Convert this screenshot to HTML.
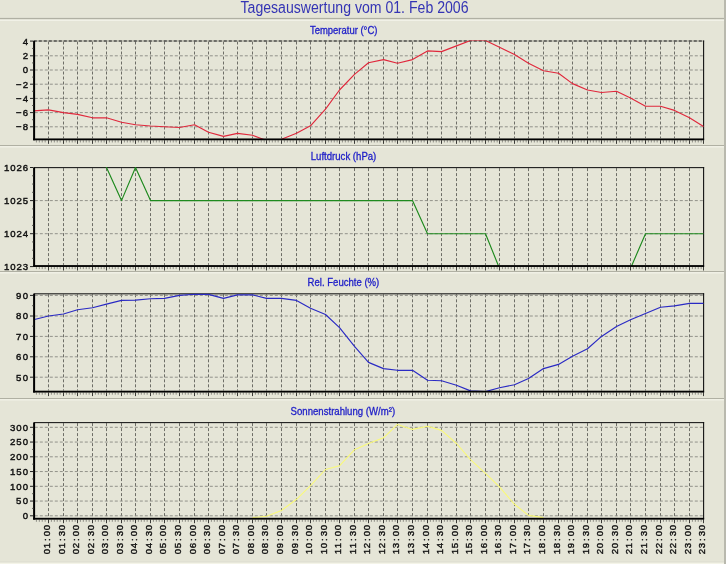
<!DOCTYPE html>
<html><head><meta charset="utf-8"><title>Tagesauswertung vom 01. Feb 2006</title>
<style>
html,body{margin:0;padding:0;background:#e5e5d7;}
body{width:726px;height:564px;overflow:hidden;font-family:"Liberation Sans",sans-serif;}
svg{will-change:transform;}
svg text{font-family:"Liberation Sans",sans-serif;}
.tt{font-size:15.8px;fill:#3434b4;}
.pt{font-size:10.6px;fill:#1c1cc8;stroke:#1c1cc8;stroke-width:0.3;}
.yl{font-size:9.6px;fill:#111;stroke:#111;stroke-width:0.42;}
.xl{font-size:9.6px;fill:#111;stroke:#111;stroke-width:0.4;}
</style></head>
<body>
<svg width="726" height="564" viewBox="0 0 726 564" style="display:block">
<rect x="0" y="0" width="726" height="564" fill="#e5e5d7"/>
<rect x="0" y="17.9" width="726" height="1.3" fill="#b0b0a3"/>
<rect x="0" y="19.6" width="726" height="1.4" fill="#f1f1e7"/>
<rect x="0" y="145" width="726" height="1.0" fill="#b0b0a3"/>
<rect x="0" y="146.1" width="726" height="1.4" fill="#f1f1e7"/>
<rect x="0" y="271" width="726" height="1.0" fill="#b0b0a3"/>
<rect x="0" y="272.1" width="726" height="1.4" fill="#f1f1e7"/>
<rect x="0" y="398" width="726" height="1.0" fill="#b0b0a3"/>
<rect x="0" y="399.1" width="726" height="1.4" fill="#f1f1e7"/>
<rect x="0" y="561" width="726" height="1.7" fill="#e0e0d3"/>
<rect x="0" y="562.7" width="726" height="1.3" fill="#f4f4e8"/>
<rect x="724" y="0" width="2" height="564" fill="#b9b9ae"/>
<clipPath id="c0"><rect x="33.8" y="40.5" width="670.3000000000001" height="98.75"/></clipPath>
<line x1="48.50" y1="41.50" x2="48.50" y2="138.25" stroke="#6e6e67" stroke-width="1" stroke-dasharray="3 2"/>
<line x1="63.50" y1="41.50" x2="63.50" y2="138.25" stroke="#6e6e67" stroke-width="1" stroke-dasharray="3 2"/>
<line x1="77.50" y1="41.50" x2="77.50" y2="138.25" stroke="#6e6e67" stroke-width="1" stroke-dasharray="3 2"/>
<line x1="92.50" y1="41.50" x2="92.50" y2="138.25" stroke="#6e6e67" stroke-width="1" stroke-dasharray="3 2"/>
<line x1="106.50" y1="41.50" x2="106.50" y2="138.25" stroke="#6e6e67" stroke-width="1" stroke-dasharray="3 2"/>
<line x1="121.50" y1="41.50" x2="121.50" y2="138.25" stroke="#6e6e67" stroke-width="1" stroke-dasharray="3 2"/>
<line x1="135.50" y1="41.50" x2="135.50" y2="138.25" stroke="#6e6e67" stroke-width="1" stroke-dasharray="3 2"/>
<line x1="150.50" y1="41.50" x2="150.50" y2="138.25" stroke="#6e6e67" stroke-width="1" stroke-dasharray="3 2"/>
<line x1="164.50" y1="41.50" x2="164.50" y2="138.25" stroke="#6e6e67" stroke-width="1" stroke-dasharray="3 2"/>
<line x1="179.50" y1="41.50" x2="179.50" y2="138.25" stroke="#6e6e67" stroke-width="1" stroke-dasharray="3 2"/>
<line x1="194.50" y1="41.50" x2="194.50" y2="138.25" stroke="#6e6e67" stroke-width="1" stroke-dasharray="3 2"/>
<line x1="208.50" y1="41.50" x2="208.50" y2="138.25" stroke="#6e6e67" stroke-width="1" stroke-dasharray="3 2"/>
<line x1="223.50" y1="41.50" x2="223.50" y2="138.25" stroke="#6e6e67" stroke-width="1" stroke-dasharray="3 2"/>
<line x1="237.50" y1="41.50" x2="237.50" y2="138.25" stroke="#6e6e67" stroke-width="1" stroke-dasharray="3 2"/>
<line x1="252.50" y1="41.50" x2="252.50" y2="138.25" stroke="#6e6e67" stroke-width="1" stroke-dasharray="3 2"/>
<line x1="266.50" y1="41.50" x2="266.50" y2="138.25" stroke="#6e6e67" stroke-width="1" stroke-dasharray="3 2"/>
<line x1="281.50" y1="41.50" x2="281.50" y2="138.25" stroke="#6e6e67" stroke-width="1" stroke-dasharray="3 2"/>
<line x1="296.50" y1="41.50" x2="296.50" y2="138.25" stroke="#6e6e67" stroke-width="1" stroke-dasharray="3 2"/>
<line x1="310.50" y1="41.50" x2="310.50" y2="138.25" stroke="#6e6e67" stroke-width="1" stroke-dasharray="3 2"/>
<line x1="325.50" y1="41.50" x2="325.50" y2="138.25" stroke="#6e6e67" stroke-width="1" stroke-dasharray="3 2"/>
<line x1="339.50" y1="41.50" x2="339.50" y2="138.25" stroke="#6e6e67" stroke-width="1" stroke-dasharray="3 2"/>
<line x1="354.50" y1="41.50" x2="354.50" y2="138.25" stroke="#6e6e67" stroke-width="1" stroke-dasharray="3 2"/>
<line x1="368.50" y1="41.50" x2="368.50" y2="138.25" stroke="#6e6e67" stroke-width="1" stroke-dasharray="3 2"/>
<line x1="383.50" y1="41.50" x2="383.50" y2="138.25" stroke="#6e6e67" stroke-width="1" stroke-dasharray="3 2"/>
<line x1="397.50" y1="41.50" x2="397.50" y2="138.25" stroke="#6e6e67" stroke-width="1" stroke-dasharray="3 2"/>
<line x1="412.50" y1="41.50" x2="412.50" y2="138.25" stroke="#6e6e67" stroke-width="1" stroke-dasharray="3 2"/>
<line x1="427.50" y1="41.50" x2="427.50" y2="138.25" stroke="#6e6e67" stroke-width="1" stroke-dasharray="3 2"/>
<line x1="441.50" y1="41.50" x2="441.50" y2="138.25" stroke="#6e6e67" stroke-width="1" stroke-dasharray="3 2"/>
<line x1="456.50" y1="41.50" x2="456.50" y2="138.25" stroke="#6e6e67" stroke-width="1" stroke-dasharray="3 2"/>
<line x1="470.50" y1="41.50" x2="470.50" y2="138.25" stroke="#6e6e67" stroke-width="1" stroke-dasharray="3 2"/>
<line x1="485.50" y1="41.50" x2="485.50" y2="138.25" stroke="#6e6e67" stroke-width="1" stroke-dasharray="3 2"/>
<line x1="499.50" y1="41.50" x2="499.50" y2="138.25" stroke="#6e6e67" stroke-width="1" stroke-dasharray="3 2"/>
<line x1="514.50" y1="41.50" x2="514.50" y2="138.25" stroke="#6e6e67" stroke-width="1" stroke-dasharray="3 2"/>
<line x1="528.50" y1="41.50" x2="528.50" y2="138.25" stroke="#6e6e67" stroke-width="1" stroke-dasharray="3 2"/>
<line x1="543.50" y1="41.50" x2="543.50" y2="138.25" stroke="#6e6e67" stroke-width="1" stroke-dasharray="3 2"/>
<line x1="558.50" y1="41.50" x2="558.50" y2="138.25" stroke="#6e6e67" stroke-width="1" stroke-dasharray="3 2"/>
<line x1="572.50" y1="41.50" x2="572.50" y2="138.25" stroke="#6e6e67" stroke-width="1" stroke-dasharray="3 2"/>
<line x1="587.50" y1="41.50" x2="587.50" y2="138.25" stroke="#6e6e67" stroke-width="1" stroke-dasharray="3 2"/>
<line x1="601.50" y1="41.50" x2="601.50" y2="138.25" stroke="#6e6e67" stroke-width="1" stroke-dasharray="3 2"/>
<line x1="616.50" y1="41.50" x2="616.50" y2="138.25" stroke="#6e6e67" stroke-width="1" stroke-dasharray="3 2"/>
<line x1="630.50" y1="41.50" x2="630.50" y2="138.25" stroke="#6e6e67" stroke-width="1" stroke-dasharray="3 2"/>
<line x1="645.50" y1="41.50" x2="645.50" y2="138.25" stroke="#6e6e67" stroke-width="1" stroke-dasharray="3 2"/>
<line x1="660.50" y1="41.50" x2="660.50" y2="138.25" stroke="#6e6e67" stroke-width="1" stroke-dasharray="3 2"/>
<line x1="674.50" y1="41.50" x2="674.50" y2="138.25" stroke="#6e6e67" stroke-width="1" stroke-dasharray="3 2"/>
<line x1="689.50" y1="41.50" x2="689.50" y2="138.25" stroke="#6e6e67" stroke-width="1" stroke-dasharray="3 2"/>
<line x1="34.80" y1="55.80" x2="703.60" y2="55.80" stroke="#92928a" stroke-width="1" stroke-dasharray="3 2"/>
<line x1="34.80" y1="70.00" x2="703.60" y2="70.00" stroke="#92928a" stroke-width="1" stroke-dasharray="3 2"/>
<line x1="34.80" y1="84.20" x2="703.60" y2="84.20" stroke="#92928a" stroke-width="1" stroke-dasharray="3 2"/>
<line x1="34.80" y1="98.40" x2="703.60" y2="98.40" stroke="#92928a" stroke-width="1" stroke-dasharray="3 2"/>
<line x1="34.80" y1="112.60" x2="703.60" y2="112.60" stroke="#92928a" stroke-width="1" stroke-dasharray="3 2"/>
<line x1="34.80" y1="126.80" x2="703.60" y2="126.80" stroke="#92928a" stroke-width="1" stroke-dasharray="3 2"/>
<line x1="33.80" y1="41.00" x2="704.10" y2="41.00" stroke="#9c9c92" stroke-width="1.15"/>
<line x1="33.80" y1="41.00" x2="704.10" y2="41.00" stroke="#1c1c1c" stroke-width="1.15" stroke-dasharray="3 2"/>
<line x1="703.60" y1="40.50" x2="703.60" y2="140.25" stroke="#111" stroke-width="1.1"/>
<polyline clip-path="url(#c0)" points="33.50,110.90 48.50,109.90 63.50,112.60 77.50,114.40 92.50,117.80 106.50,117.80 121.50,122.30 135.50,124.80 150.50,126.00 164.50,126.80 179.50,127.50 194.50,124.80 208.50,132.20 223.50,136.40 237.50,133.40 252.50,135.20 266.50,140.50 281.50,139.30 296.50,133.20 310.50,125.80 325.50,109.10 339.50,90.00 354.50,74.40 368.50,62.80 383.50,59.60 397.50,63.30 412.50,59.60 427.50,50.90 441.50,51.60 456.50,45.90 470.50,40.50 485.50,40.50 499.50,47.20 514.50,54.60 528.50,63.30 543.50,70.70 558.50,73.20 572.50,83.60 587.50,90.00 601.50,92.50 616.50,91.30 630.50,98.00 645.50,106.20 660.50,106.20 674.50,110.40 689.50,117.80 703.50,126.50" fill="none" stroke="#e0283c" stroke-width="1.15" stroke-linejoin="round"/>
<line x1="36.41" y1="140.25" x2="36.41" y2="142.45" stroke="#8f8f87" stroke-width="1"/>
<line x1="39.33" y1="140.25" x2="39.33" y2="142.45" stroke="#8f8f87" stroke-width="1"/>
<line x1="42.24" y1="140.25" x2="42.24" y2="142.45" stroke="#8f8f87" stroke-width="1"/>
<line x1="45.16" y1="140.25" x2="45.16" y2="142.45" stroke="#8f8f87" stroke-width="1"/>
<line x1="51.41" y1="140.25" x2="51.41" y2="142.45" stroke="#8f8f87" stroke-width="1"/>
<line x1="54.33" y1="140.25" x2="54.33" y2="142.45" stroke="#8f8f87" stroke-width="1"/>
<line x1="57.24" y1="140.25" x2="57.24" y2="142.45" stroke="#8f8f87" stroke-width="1"/>
<line x1="60.16" y1="140.25" x2="60.16" y2="142.45" stroke="#8f8f87" stroke-width="1"/>
<line x1="66.41" y1="140.25" x2="66.41" y2="142.45" stroke="#8f8f87" stroke-width="1"/>
<line x1="69.33" y1="140.25" x2="69.33" y2="142.45" stroke="#8f8f87" stroke-width="1"/>
<line x1="72.24" y1="140.25" x2="72.24" y2="142.45" stroke="#8f8f87" stroke-width="1"/>
<line x1="75.16" y1="140.25" x2="75.16" y2="142.45" stroke="#8f8f87" stroke-width="1"/>
<line x1="80.41" y1="140.25" x2="80.41" y2="142.45" stroke="#8f8f87" stroke-width="1"/>
<line x1="83.33" y1="140.25" x2="83.33" y2="142.45" stroke="#8f8f87" stroke-width="1"/>
<line x1="86.24" y1="140.25" x2="86.24" y2="142.45" stroke="#8f8f87" stroke-width="1"/>
<line x1="89.16" y1="140.25" x2="89.16" y2="142.45" stroke="#8f8f87" stroke-width="1"/>
<line x1="95.41" y1="140.25" x2="95.41" y2="142.45" stroke="#8f8f87" stroke-width="1"/>
<line x1="98.33" y1="140.25" x2="98.33" y2="142.45" stroke="#8f8f87" stroke-width="1"/>
<line x1="101.24" y1="140.25" x2="101.24" y2="142.45" stroke="#8f8f87" stroke-width="1"/>
<line x1="104.16" y1="140.25" x2="104.16" y2="142.45" stroke="#8f8f87" stroke-width="1"/>
<line x1="109.41" y1="140.25" x2="109.41" y2="142.45" stroke="#8f8f87" stroke-width="1"/>
<line x1="112.33" y1="140.25" x2="112.33" y2="142.45" stroke="#8f8f87" stroke-width="1"/>
<line x1="115.24" y1="140.25" x2="115.24" y2="142.45" stroke="#8f8f87" stroke-width="1"/>
<line x1="118.16" y1="140.25" x2="118.16" y2="142.45" stroke="#8f8f87" stroke-width="1"/>
<line x1="124.41" y1="140.25" x2="124.41" y2="142.45" stroke="#8f8f87" stroke-width="1"/>
<line x1="127.33" y1="140.25" x2="127.33" y2="142.45" stroke="#8f8f87" stroke-width="1"/>
<line x1="130.24" y1="140.25" x2="130.24" y2="142.45" stroke="#8f8f87" stroke-width="1"/>
<line x1="133.16" y1="140.25" x2="133.16" y2="142.45" stroke="#8f8f87" stroke-width="1"/>
<line x1="138.41" y1="140.25" x2="138.41" y2="142.45" stroke="#8f8f87" stroke-width="1"/>
<line x1="141.33" y1="140.25" x2="141.33" y2="142.45" stroke="#8f8f87" stroke-width="1"/>
<line x1="144.24" y1="140.25" x2="144.24" y2="142.45" stroke="#8f8f87" stroke-width="1"/>
<line x1="147.16" y1="140.25" x2="147.16" y2="142.45" stroke="#8f8f87" stroke-width="1"/>
<line x1="153.41" y1="140.25" x2="153.41" y2="142.45" stroke="#8f8f87" stroke-width="1"/>
<line x1="156.33" y1="140.25" x2="156.33" y2="142.45" stroke="#8f8f87" stroke-width="1"/>
<line x1="159.24" y1="140.25" x2="159.24" y2="142.45" stroke="#8f8f87" stroke-width="1"/>
<line x1="162.16" y1="140.25" x2="162.16" y2="142.45" stroke="#8f8f87" stroke-width="1"/>
<line x1="167.41" y1="140.25" x2="167.41" y2="142.45" stroke="#8f8f87" stroke-width="1"/>
<line x1="170.33" y1="140.25" x2="170.33" y2="142.45" stroke="#8f8f87" stroke-width="1"/>
<line x1="173.24" y1="140.25" x2="173.24" y2="142.45" stroke="#8f8f87" stroke-width="1"/>
<line x1="176.16" y1="140.25" x2="176.16" y2="142.45" stroke="#8f8f87" stroke-width="1"/>
<line x1="182.41" y1="140.25" x2="182.41" y2="142.45" stroke="#8f8f87" stroke-width="1"/>
<line x1="185.33" y1="140.25" x2="185.33" y2="142.45" stroke="#8f8f87" stroke-width="1"/>
<line x1="188.24" y1="140.25" x2="188.24" y2="142.45" stroke="#8f8f87" stroke-width="1"/>
<line x1="191.16" y1="140.25" x2="191.16" y2="142.45" stroke="#8f8f87" stroke-width="1"/>
<line x1="197.41" y1="140.25" x2="197.41" y2="142.45" stroke="#8f8f87" stroke-width="1"/>
<line x1="200.33" y1="140.25" x2="200.33" y2="142.45" stroke="#8f8f87" stroke-width="1"/>
<line x1="203.24" y1="140.25" x2="203.24" y2="142.45" stroke="#8f8f87" stroke-width="1"/>
<line x1="206.16" y1="140.25" x2="206.16" y2="142.45" stroke="#8f8f87" stroke-width="1"/>
<line x1="211.41" y1="140.25" x2="211.41" y2="142.45" stroke="#8f8f87" stroke-width="1"/>
<line x1="214.33" y1="140.25" x2="214.33" y2="142.45" stroke="#8f8f87" stroke-width="1"/>
<line x1="217.24" y1="140.25" x2="217.24" y2="142.45" stroke="#8f8f87" stroke-width="1"/>
<line x1="220.16" y1="140.25" x2="220.16" y2="142.45" stroke="#8f8f87" stroke-width="1"/>
<line x1="226.41" y1="140.25" x2="226.41" y2="142.45" stroke="#8f8f87" stroke-width="1"/>
<line x1="229.33" y1="140.25" x2="229.33" y2="142.45" stroke="#8f8f87" stroke-width="1"/>
<line x1="232.24" y1="140.25" x2="232.24" y2="142.45" stroke="#8f8f87" stroke-width="1"/>
<line x1="235.16" y1="140.25" x2="235.16" y2="142.45" stroke="#8f8f87" stroke-width="1"/>
<line x1="240.41" y1="140.25" x2="240.41" y2="142.45" stroke="#8f8f87" stroke-width="1"/>
<line x1="243.33" y1="140.25" x2="243.33" y2="142.45" stroke="#8f8f87" stroke-width="1"/>
<line x1="246.24" y1="140.25" x2="246.24" y2="142.45" stroke="#8f8f87" stroke-width="1"/>
<line x1="249.16" y1="140.25" x2="249.16" y2="142.45" stroke="#8f8f87" stroke-width="1"/>
<line x1="255.41" y1="140.25" x2="255.41" y2="142.45" stroke="#8f8f87" stroke-width="1"/>
<line x1="258.33" y1="140.25" x2="258.33" y2="142.45" stroke="#8f8f87" stroke-width="1"/>
<line x1="261.24" y1="140.25" x2="261.24" y2="142.45" stroke="#8f8f87" stroke-width="1"/>
<line x1="264.16" y1="140.25" x2="264.16" y2="142.45" stroke="#8f8f87" stroke-width="1"/>
<line x1="269.41" y1="140.25" x2="269.41" y2="142.45" stroke="#8f8f87" stroke-width="1"/>
<line x1="272.33" y1="140.25" x2="272.33" y2="142.45" stroke="#8f8f87" stroke-width="1"/>
<line x1="275.24" y1="140.25" x2="275.24" y2="142.45" stroke="#8f8f87" stroke-width="1"/>
<line x1="278.16" y1="140.25" x2="278.16" y2="142.45" stroke="#8f8f87" stroke-width="1"/>
<line x1="284.41" y1="140.25" x2="284.41" y2="142.45" stroke="#8f8f87" stroke-width="1"/>
<line x1="287.33" y1="140.25" x2="287.33" y2="142.45" stroke="#8f8f87" stroke-width="1"/>
<line x1="290.24" y1="140.25" x2="290.24" y2="142.45" stroke="#8f8f87" stroke-width="1"/>
<line x1="293.16" y1="140.25" x2="293.16" y2="142.45" stroke="#8f8f87" stroke-width="1"/>
<line x1="299.41" y1="140.25" x2="299.41" y2="142.45" stroke="#8f8f87" stroke-width="1"/>
<line x1="302.33" y1="140.25" x2="302.33" y2="142.45" stroke="#8f8f87" stroke-width="1"/>
<line x1="305.24" y1="140.25" x2="305.24" y2="142.45" stroke="#8f8f87" stroke-width="1"/>
<line x1="308.16" y1="140.25" x2="308.16" y2="142.45" stroke="#8f8f87" stroke-width="1"/>
<line x1="313.41" y1="140.25" x2="313.41" y2="142.45" stroke="#8f8f87" stroke-width="1"/>
<line x1="316.33" y1="140.25" x2="316.33" y2="142.45" stroke="#8f8f87" stroke-width="1"/>
<line x1="319.24" y1="140.25" x2="319.24" y2="142.45" stroke="#8f8f87" stroke-width="1"/>
<line x1="322.16" y1="140.25" x2="322.16" y2="142.45" stroke="#8f8f87" stroke-width="1"/>
<line x1="328.41" y1="140.25" x2="328.41" y2="142.45" stroke="#8f8f87" stroke-width="1"/>
<line x1="331.33" y1="140.25" x2="331.33" y2="142.45" stroke="#8f8f87" stroke-width="1"/>
<line x1="334.24" y1="140.25" x2="334.24" y2="142.45" stroke="#8f8f87" stroke-width="1"/>
<line x1="337.16" y1="140.25" x2="337.16" y2="142.45" stroke="#8f8f87" stroke-width="1"/>
<line x1="342.41" y1="140.25" x2="342.41" y2="142.45" stroke="#8f8f87" stroke-width="1"/>
<line x1="345.33" y1="140.25" x2="345.33" y2="142.45" stroke="#8f8f87" stroke-width="1"/>
<line x1="348.24" y1="140.25" x2="348.24" y2="142.45" stroke="#8f8f87" stroke-width="1"/>
<line x1="351.16" y1="140.25" x2="351.16" y2="142.45" stroke="#8f8f87" stroke-width="1"/>
<line x1="357.41" y1="140.25" x2="357.41" y2="142.45" stroke="#8f8f87" stroke-width="1"/>
<line x1="360.33" y1="140.25" x2="360.33" y2="142.45" stroke="#8f8f87" stroke-width="1"/>
<line x1="363.24" y1="140.25" x2="363.24" y2="142.45" stroke="#8f8f87" stroke-width="1"/>
<line x1="366.16" y1="140.25" x2="366.16" y2="142.45" stroke="#8f8f87" stroke-width="1"/>
<line x1="371.41" y1="140.25" x2="371.41" y2="142.45" stroke="#8f8f87" stroke-width="1"/>
<line x1="374.33" y1="140.25" x2="374.33" y2="142.45" stroke="#8f8f87" stroke-width="1"/>
<line x1="377.24" y1="140.25" x2="377.24" y2="142.45" stroke="#8f8f87" stroke-width="1"/>
<line x1="380.16" y1="140.25" x2="380.16" y2="142.45" stroke="#8f8f87" stroke-width="1"/>
<line x1="386.41" y1="140.25" x2="386.41" y2="142.45" stroke="#8f8f87" stroke-width="1"/>
<line x1="389.33" y1="140.25" x2="389.33" y2="142.45" stroke="#8f8f87" stroke-width="1"/>
<line x1="392.24" y1="140.25" x2="392.24" y2="142.45" stroke="#8f8f87" stroke-width="1"/>
<line x1="395.16" y1="140.25" x2="395.16" y2="142.45" stroke="#8f8f87" stroke-width="1"/>
<line x1="400.41" y1="140.25" x2="400.41" y2="142.45" stroke="#8f8f87" stroke-width="1"/>
<line x1="403.33" y1="140.25" x2="403.33" y2="142.45" stroke="#8f8f87" stroke-width="1"/>
<line x1="406.24" y1="140.25" x2="406.24" y2="142.45" stroke="#8f8f87" stroke-width="1"/>
<line x1="409.16" y1="140.25" x2="409.16" y2="142.45" stroke="#8f8f87" stroke-width="1"/>
<line x1="415.41" y1="140.25" x2="415.41" y2="142.45" stroke="#8f8f87" stroke-width="1"/>
<line x1="418.33" y1="140.25" x2="418.33" y2="142.45" stroke="#8f8f87" stroke-width="1"/>
<line x1="421.24" y1="140.25" x2="421.24" y2="142.45" stroke="#8f8f87" stroke-width="1"/>
<line x1="424.16" y1="140.25" x2="424.16" y2="142.45" stroke="#8f8f87" stroke-width="1"/>
<line x1="430.41" y1="140.25" x2="430.41" y2="142.45" stroke="#8f8f87" stroke-width="1"/>
<line x1="433.33" y1="140.25" x2="433.33" y2="142.45" stroke="#8f8f87" stroke-width="1"/>
<line x1="436.24" y1="140.25" x2="436.24" y2="142.45" stroke="#8f8f87" stroke-width="1"/>
<line x1="439.16" y1="140.25" x2="439.16" y2="142.45" stroke="#8f8f87" stroke-width="1"/>
<line x1="444.41" y1="140.25" x2="444.41" y2="142.45" stroke="#8f8f87" stroke-width="1"/>
<line x1="447.33" y1="140.25" x2="447.33" y2="142.45" stroke="#8f8f87" stroke-width="1"/>
<line x1="450.24" y1="140.25" x2="450.24" y2="142.45" stroke="#8f8f87" stroke-width="1"/>
<line x1="453.16" y1="140.25" x2="453.16" y2="142.45" stroke="#8f8f87" stroke-width="1"/>
<line x1="459.41" y1="140.25" x2="459.41" y2="142.45" stroke="#8f8f87" stroke-width="1"/>
<line x1="462.33" y1="140.25" x2="462.33" y2="142.45" stroke="#8f8f87" stroke-width="1"/>
<line x1="465.24" y1="140.25" x2="465.24" y2="142.45" stroke="#8f8f87" stroke-width="1"/>
<line x1="468.16" y1="140.25" x2="468.16" y2="142.45" stroke="#8f8f87" stroke-width="1"/>
<line x1="473.41" y1="140.25" x2="473.41" y2="142.45" stroke="#8f8f87" stroke-width="1"/>
<line x1="476.33" y1="140.25" x2="476.33" y2="142.45" stroke="#8f8f87" stroke-width="1"/>
<line x1="479.24" y1="140.25" x2="479.24" y2="142.45" stroke="#8f8f87" stroke-width="1"/>
<line x1="482.16" y1="140.25" x2="482.16" y2="142.45" stroke="#8f8f87" stroke-width="1"/>
<line x1="488.41" y1="140.25" x2="488.41" y2="142.45" stroke="#8f8f87" stroke-width="1"/>
<line x1="491.33" y1="140.25" x2="491.33" y2="142.45" stroke="#8f8f87" stroke-width="1"/>
<line x1="494.24" y1="140.25" x2="494.24" y2="142.45" stroke="#8f8f87" stroke-width="1"/>
<line x1="497.16" y1="140.25" x2="497.16" y2="142.45" stroke="#8f8f87" stroke-width="1"/>
<line x1="502.41" y1="140.25" x2="502.41" y2="142.45" stroke="#8f8f87" stroke-width="1"/>
<line x1="505.33" y1="140.25" x2="505.33" y2="142.45" stroke="#8f8f87" stroke-width="1"/>
<line x1="508.24" y1="140.25" x2="508.24" y2="142.45" stroke="#8f8f87" stroke-width="1"/>
<line x1="511.16" y1="140.25" x2="511.16" y2="142.45" stroke="#8f8f87" stroke-width="1"/>
<line x1="517.41" y1="140.25" x2="517.41" y2="142.45" stroke="#8f8f87" stroke-width="1"/>
<line x1="520.33" y1="140.25" x2="520.33" y2="142.45" stroke="#8f8f87" stroke-width="1"/>
<line x1="523.24" y1="140.25" x2="523.24" y2="142.45" stroke="#8f8f87" stroke-width="1"/>
<line x1="526.16" y1="140.25" x2="526.16" y2="142.45" stroke="#8f8f87" stroke-width="1"/>
<line x1="531.41" y1="140.25" x2="531.41" y2="142.45" stroke="#8f8f87" stroke-width="1"/>
<line x1="534.33" y1="140.25" x2="534.33" y2="142.45" stroke="#8f8f87" stroke-width="1"/>
<line x1="537.24" y1="140.25" x2="537.24" y2="142.45" stroke="#8f8f87" stroke-width="1"/>
<line x1="540.16" y1="140.25" x2="540.16" y2="142.45" stroke="#8f8f87" stroke-width="1"/>
<line x1="546.41" y1="140.25" x2="546.41" y2="142.45" stroke="#8f8f87" stroke-width="1"/>
<line x1="549.33" y1="140.25" x2="549.33" y2="142.45" stroke="#8f8f87" stroke-width="1"/>
<line x1="552.24" y1="140.25" x2="552.24" y2="142.45" stroke="#8f8f87" stroke-width="1"/>
<line x1="555.16" y1="140.25" x2="555.16" y2="142.45" stroke="#8f8f87" stroke-width="1"/>
<line x1="561.41" y1="140.25" x2="561.41" y2="142.45" stroke="#8f8f87" stroke-width="1"/>
<line x1="564.33" y1="140.25" x2="564.33" y2="142.45" stroke="#8f8f87" stroke-width="1"/>
<line x1="567.24" y1="140.25" x2="567.24" y2="142.45" stroke="#8f8f87" stroke-width="1"/>
<line x1="570.16" y1="140.25" x2="570.16" y2="142.45" stroke="#8f8f87" stroke-width="1"/>
<line x1="575.41" y1="140.25" x2="575.41" y2="142.45" stroke="#8f8f87" stroke-width="1"/>
<line x1="578.33" y1="140.25" x2="578.33" y2="142.45" stroke="#8f8f87" stroke-width="1"/>
<line x1="581.24" y1="140.25" x2="581.24" y2="142.45" stroke="#8f8f87" stroke-width="1"/>
<line x1="584.16" y1="140.25" x2="584.16" y2="142.45" stroke="#8f8f87" stroke-width="1"/>
<line x1="590.41" y1="140.25" x2="590.41" y2="142.45" stroke="#8f8f87" stroke-width="1"/>
<line x1="593.33" y1="140.25" x2="593.33" y2="142.45" stroke="#8f8f87" stroke-width="1"/>
<line x1="596.24" y1="140.25" x2="596.24" y2="142.45" stroke="#8f8f87" stroke-width="1"/>
<line x1="599.16" y1="140.25" x2="599.16" y2="142.45" stroke="#8f8f87" stroke-width="1"/>
<line x1="604.41" y1="140.25" x2="604.41" y2="142.45" stroke="#8f8f87" stroke-width="1"/>
<line x1="607.33" y1="140.25" x2="607.33" y2="142.45" stroke="#8f8f87" stroke-width="1"/>
<line x1="610.24" y1="140.25" x2="610.24" y2="142.45" stroke="#8f8f87" stroke-width="1"/>
<line x1="613.16" y1="140.25" x2="613.16" y2="142.45" stroke="#8f8f87" stroke-width="1"/>
<line x1="619.41" y1="140.25" x2="619.41" y2="142.45" stroke="#8f8f87" stroke-width="1"/>
<line x1="622.33" y1="140.25" x2="622.33" y2="142.45" stroke="#8f8f87" stroke-width="1"/>
<line x1="625.24" y1="140.25" x2="625.24" y2="142.45" stroke="#8f8f87" stroke-width="1"/>
<line x1="628.16" y1="140.25" x2="628.16" y2="142.45" stroke="#8f8f87" stroke-width="1"/>
<line x1="633.41" y1="140.25" x2="633.41" y2="142.45" stroke="#8f8f87" stroke-width="1"/>
<line x1="636.33" y1="140.25" x2="636.33" y2="142.45" stroke="#8f8f87" stroke-width="1"/>
<line x1="639.24" y1="140.25" x2="639.24" y2="142.45" stroke="#8f8f87" stroke-width="1"/>
<line x1="642.16" y1="140.25" x2="642.16" y2="142.45" stroke="#8f8f87" stroke-width="1"/>
<line x1="648.41" y1="140.25" x2="648.41" y2="142.45" stroke="#8f8f87" stroke-width="1"/>
<line x1="651.33" y1="140.25" x2="651.33" y2="142.45" stroke="#8f8f87" stroke-width="1"/>
<line x1="654.24" y1="140.25" x2="654.24" y2="142.45" stroke="#8f8f87" stroke-width="1"/>
<line x1="657.16" y1="140.25" x2="657.16" y2="142.45" stroke="#8f8f87" stroke-width="1"/>
<line x1="663.41" y1="140.25" x2="663.41" y2="142.45" stroke="#8f8f87" stroke-width="1"/>
<line x1="666.33" y1="140.25" x2="666.33" y2="142.45" stroke="#8f8f87" stroke-width="1"/>
<line x1="669.24" y1="140.25" x2="669.24" y2="142.45" stroke="#8f8f87" stroke-width="1"/>
<line x1="672.16" y1="140.25" x2="672.16" y2="142.45" stroke="#8f8f87" stroke-width="1"/>
<line x1="677.41" y1="140.25" x2="677.41" y2="142.45" stroke="#8f8f87" stroke-width="1"/>
<line x1="680.33" y1="140.25" x2="680.33" y2="142.45" stroke="#8f8f87" stroke-width="1"/>
<line x1="683.24" y1="140.25" x2="683.24" y2="142.45" stroke="#8f8f87" stroke-width="1"/>
<line x1="686.16" y1="140.25" x2="686.16" y2="142.45" stroke="#8f8f87" stroke-width="1"/>
<line x1="692.41" y1="140.25" x2="692.41" y2="142.45" stroke="#8f8f87" stroke-width="1"/>
<line x1="695.33" y1="140.25" x2="695.33" y2="142.45" stroke="#8f8f87" stroke-width="1"/>
<line x1="698.24" y1="140.25" x2="698.24" y2="142.45" stroke="#8f8f87" stroke-width="1"/>
<line x1="701.16" y1="140.25" x2="701.16" y2="142.45" stroke="#8f8f87" stroke-width="1"/>
<line x1="48.50" y1="140.25" x2="48.50" y2="143.85" stroke="#3c3c38" stroke-width="1"/>
<line x1="63.50" y1="140.25" x2="63.50" y2="143.85" stroke="#3c3c38" stroke-width="1"/>
<line x1="77.50" y1="140.25" x2="77.50" y2="143.85" stroke="#3c3c38" stroke-width="1"/>
<line x1="92.50" y1="140.25" x2="92.50" y2="143.85" stroke="#3c3c38" stroke-width="1"/>
<line x1="106.50" y1="140.25" x2="106.50" y2="143.85" stroke="#3c3c38" stroke-width="1"/>
<line x1="121.50" y1="140.25" x2="121.50" y2="143.85" stroke="#3c3c38" stroke-width="1"/>
<line x1="135.50" y1="140.25" x2="135.50" y2="143.85" stroke="#3c3c38" stroke-width="1"/>
<line x1="150.50" y1="140.25" x2="150.50" y2="143.85" stroke="#3c3c38" stroke-width="1"/>
<line x1="164.50" y1="140.25" x2="164.50" y2="143.85" stroke="#3c3c38" stroke-width="1"/>
<line x1="179.50" y1="140.25" x2="179.50" y2="143.85" stroke="#3c3c38" stroke-width="1"/>
<line x1="194.50" y1="140.25" x2="194.50" y2="143.85" stroke="#3c3c38" stroke-width="1"/>
<line x1="208.50" y1="140.25" x2="208.50" y2="143.85" stroke="#3c3c38" stroke-width="1"/>
<line x1="223.50" y1="140.25" x2="223.50" y2="143.85" stroke="#3c3c38" stroke-width="1"/>
<line x1="237.50" y1="140.25" x2="237.50" y2="143.85" stroke="#3c3c38" stroke-width="1"/>
<line x1="252.50" y1="140.25" x2="252.50" y2="143.85" stroke="#3c3c38" stroke-width="1"/>
<line x1="266.50" y1="140.25" x2="266.50" y2="143.85" stroke="#3c3c38" stroke-width="1"/>
<line x1="281.50" y1="140.25" x2="281.50" y2="143.85" stroke="#3c3c38" stroke-width="1"/>
<line x1="296.50" y1="140.25" x2="296.50" y2="143.85" stroke="#3c3c38" stroke-width="1"/>
<line x1="310.50" y1="140.25" x2="310.50" y2="143.85" stroke="#3c3c38" stroke-width="1"/>
<line x1="325.50" y1="140.25" x2="325.50" y2="143.85" stroke="#3c3c38" stroke-width="1"/>
<line x1="339.50" y1="140.25" x2="339.50" y2="143.85" stroke="#3c3c38" stroke-width="1"/>
<line x1="354.50" y1="140.25" x2="354.50" y2="143.85" stroke="#3c3c38" stroke-width="1"/>
<line x1="368.50" y1="140.25" x2="368.50" y2="143.85" stroke="#3c3c38" stroke-width="1"/>
<line x1="383.50" y1="140.25" x2="383.50" y2="143.85" stroke="#3c3c38" stroke-width="1"/>
<line x1="397.50" y1="140.25" x2="397.50" y2="143.85" stroke="#3c3c38" stroke-width="1"/>
<line x1="412.50" y1="140.25" x2="412.50" y2="143.85" stroke="#3c3c38" stroke-width="1"/>
<line x1="427.50" y1="140.25" x2="427.50" y2="143.85" stroke="#3c3c38" stroke-width="1"/>
<line x1="441.50" y1="140.25" x2="441.50" y2="143.85" stroke="#3c3c38" stroke-width="1"/>
<line x1="456.50" y1="140.25" x2="456.50" y2="143.85" stroke="#3c3c38" stroke-width="1"/>
<line x1="470.50" y1="140.25" x2="470.50" y2="143.85" stroke="#3c3c38" stroke-width="1"/>
<line x1="485.50" y1="140.25" x2="485.50" y2="143.85" stroke="#3c3c38" stroke-width="1"/>
<line x1="499.50" y1="140.25" x2="499.50" y2="143.85" stroke="#3c3c38" stroke-width="1"/>
<line x1="514.50" y1="140.25" x2="514.50" y2="143.85" stroke="#3c3c38" stroke-width="1"/>
<line x1="528.50" y1="140.25" x2="528.50" y2="143.85" stroke="#3c3c38" stroke-width="1"/>
<line x1="543.50" y1="140.25" x2="543.50" y2="143.85" stroke="#3c3c38" stroke-width="1"/>
<line x1="558.50" y1="140.25" x2="558.50" y2="143.85" stroke="#3c3c38" stroke-width="1"/>
<line x1="572.50" y1="140.25" x2="572.50" y2="143.85" stroke="#3c3c38" stroke-width="1"/>
<line x1="587.50" y1="140.25" x2="587.50" y2="143.85" stroke="#3c3c38" stroke-width="1"/>
<line x1="601.50" y1="140.25" x2="601.50" y2="143.85" stroke="#3c3c38" stroke-width="1"/>
<line x1="616.50" y1="140.25" x2="616.50" y2="143.85" stroke="#3c3c38" stroke-width="1"/>
<line x1="630.50" y1="140.25" x2="630.50" y2="143.85" stroke="#3c3c38" stroke-width="1"/>
<line x1="645.50" y1="140.25" x2="645.50" y2="143.85" stroke="#3c3c38" stroke-width="1"/>
<line x1="660.50" y1="140.25" x2="660.50" y2="143.85" stroke="#3c3c38" stroke-width="1"/>
<line x1="674.50" y1="140.25" x2="674.50" y2="143.85" stroke="#3c3c38" stroke-width="1"/>
<line x1="689.50" y1="140.25" x2="689.50" y2="143.85" stroke="#3c3c38" stroke-width="1"/>
<line x1="703.50" y1="140.25" x2="703.50" y2="143.85" stroke="#3c3c38" stroke-width="1"/>
<rect x="33.1" y="40.90" width="2" height="99.35" fill="#000"/>
<rect x="33.1" y="138.45" width="671.00" height="1.85" fill="#000"/>
<line x1="30.00" y1="41.10" x2="33.30" y2="41.10" stroke="#222" stroke-width="1"/>
<line x1="32.00" y1="48.45" x2="33.30" y2="48.45" stroke="#66665f" stroke-width="1"/>
<text x="28.0" y="44.50" text-anchor="end" textLength="6.0" lengthAdjust="spacing" class="yl">4</text>
<line x1="30.00" y1="55.80" x2="33.30" y2="55.80" stroke="#222" stroke-width="1"/>
<line x1="32.00" y1="62.90" x2="33.30" y2="62.90" stroke="#66665f" stroke-width="1"/>
<text x="28.0" y="59.20" text-anchor="end" textLength="6.0" lengthAdjust="spacing" class="yl">2</text>
<line x1="30.00" y1="70.00" x2="33.30" y2="70.00" stroke="#222" stroke-width="1"/>
<line x1="32.00" y1="77.10" x2="33.30" y2="77.10" stroke="#66665f" stroke-width="1"/>
<text x="28.0" y="73.40" text-anchor="end" textLength="6.0" lengthAdjust="spacing" class="yl">0</text>
<line x1="30.00" y1="84.20" x2="33.30" y2="84.20" stroke="#222" stroke-width="1"/>
<line x1="32.00" y1="91.30" x2="33.30" y2="91.30" stroke="#66665f" stroke-width="1"/>
<text x="28.0" y="87.60" text-anchor="end" textLength="12.0" lengthAdjust="spacing" class="yl">−2</text>
<line x1="30.00" y1="98.40" x2="33.30" y2="98.40" stroke="#222" stroke-width="1"/>
<line x1="32.00" y1="105.50" x2="33.30" y2="105.50" stroke="#66665f" stroke-width="1"/>
<text x="28.0" y="101.80" text-anchor="end" textLength="12.0" lengthAdjust="spacing" class="yl">−4</text>
<line x1="30.00" y1="112.60" x2="33.30" y2="112.60" stroke="#222" stroke-width="1"/>
<line x1="32.00" y1="119.70" x2="33.30" y2="119.70" stroke="#66665f" stroke-width="1"/>
<text x="28.0" y="116.00" text-anchor="end" textLength="12.0" lengthAdjust="spacing" class="yl">−6</text>
<line x1="30.00" y1="126.80" x2="33.30" y2="126.80" stroke="#222" stroke-width="1"/>
<text x="28.0" y="130.20" text-anchor="end" textLength="12.0" lengthAdjust="spacing" class="yl">−8</text>
<text x="309.9" y="33.9" textLength="67.5" lengthAdjust="spacingAndGlyphs" class="pt">Temperatur (°C)</text>
<clipPath id="c1"><rect x="33.8" y="167.1" width="670.3000000000001" height="98.79999999999998"/></clipPath>
<line x1="48.50" y1="168.10" x2="48.50" y2="264.90" stroke="#6e6e67" stroke-width="1" stroke-dasharray="3 2"/>
<line x1="63.50" y1="168.10" x2="63.50" y2="264.90" stroke="#6e6e67" stroke-width="1" stroke-dasharray="3 2"/>
<line x1="77.50" y1="168.10" x2="77.50" y2="264.90" stroke="#6e6e67" stroke-width="1" stroke-dasharray="3 2"/>
<line x1="92.50" y1="168.10" x2="92.50" y2="264.90" stroke="#6e6e67" stroke-width="1" stroke-dasharray="3 2"/>
<line x1="106.50" y1="168.10" x2="106.50" y2="264.90" stroke="#6e6e67" stroke-width="1" stroke-dasharray="3 2"/>
<line x1="121.50" y1="168.10" x2="121.50" y2="264.90" stroke="#6e6e67" stroke-width="1" stroke-dasharray="3 2"/>
<line x1="135.50" y1="168.10" x2="135.50" y2="264.90" stroke="#6e6e67" stroke-width="1" stroke-dasharray="3 2"/>
<line x1="150.50" y1="168.10" x2="150.50" y2="264.90" stroke="#6e6e67" stroke-width="1" stroke-dasharray="3 2"/>
<line x1="164.50" y1="168.10" x2="164.50" y2="264.90" stroke="#6e6e67" stroke-width="1" stroke-dasharray="3 2"/>
<line x1="179.50" y1="168.10" x2="179.50" y2="264.90" stroke="#6e6e67" stroke-width="1" stroke-dasharray="3 2"/>
<line x1="194.50" y1="168.10" x2="194.50" y2="264.90" stroke="#6e6e67" stroke-width="1" stroke-dasharray="3 2"/>
<line x1="208.50" y1="168.10" x2="208.50" y2="264.90" stroke="#6e6e67" stroke-width="1" stroke-dasharray="3 2"/>
<line x1="223.50" y1="168.10" x2="223.50" y2="264.90" stroke="#6e6e67" stroke-width="1" stroke-dasharray="3 2"/>
<line x1="237.50" y1="168.10" x2="237.50" y2="264.90" stroke="#6e6e67" stroke-width="1" stroke-dasharray="3 2"/>
<line x1="252.50" y1="168.10" x2="252.50" y2="264.90" stroke="#6e6e67" stroke-width="1" stroke-dasharray="3 2"/>
<line x1="266.50" y1="168.10" x2="266.50" y2="264.90" stroke="#6e6e67" stroke-width="1" stroke-dasharray="3 2"/>
<line x1="281.50" y1="168.10" x2="281.50" y2="264.90" stroke="#6e6e67" stroke-width="1" stroke-dasharray="3 2"/>
<line x1="296.50" y1="168.10" x2="296.50" y2="264.90" stroke="#6e6e67" stroke-width="1" stroke-dasharray="3 2"/>
<line x1="310.50" y1="168.10" x2="310.50" y2="264.90" stroke="#6e6e67" stroke-width="1" stroke-dasharray="3 2"/>
<line x1="325.50" y1="168.10" x2="325.50" y2="264.90" stroke="#6e6e67" stroke-width="1" stroke-dasharray="3 2"/>
<line x1="339.50" y1="168.10" x2="339.50" y2="264.90" stroke="#6e6e67" stroke-width="1" stroke-dasharray="3 2"/>
<line x1="354.50" y1="168.10" x2="354.50" y2="264.90" stroke="#6e6e67" stroke-width="1" stroke-dasharray="3 2"/>
<line x1="368.50" y1="168.10" x2="368.50" y2="264.90" stroke="#6e6e67" stroke-width="1" stroke-dasharray="3 2"/>
<line x1="383.50" y1="168.10" x2="383.50" y2="264.90" stroke="#6e6e67" stroke-width="1" stroke-dasharray="3 2"/>
<line x1="397.50" y1="168.10" x2="397.50" y2="264.90" stroke="#6e6e67" stroke-width="1" stroke-dasharray="3 2"/>
<line x1="412.50" y1="168.10" x2="412.50" y2="264.90" stroke="#6e6e67" stroke-width="1" stroke-dasharray="3 2"/>
<line x1="427.50" y1="168.10" x2="427.50" y2="264.90" stroke="#6e6e67" stroke-width="1" stroke-dasharray="3 2"/>
<line x1="441.50" y1="168.10" x2="441.50" y2="264.90" stroke="#6e6e67" stroke-width="1" stroke-dasharray="3 2"/>
<line x1="456.50" y1="168.10" x2="456.50" y2="264.90" stroke="#6e6e67" stroke-width="1" stroke-dasharray="3 2"/>
<line x1="470.50" y1="168.10" x2="470.50" y2="264.90" stroke="#6e6e67" stroke-width="1" stroke-dasharray="3 2"/>
<line x1="485.50" y1="168.10" x2="485.50" y2="264.90" stroke="#6e6e67" stroke-width="1" stroke-dasharray="3 2"/>
<line x1="499.50" y1="168.10" x2="499.50" y2="264.90" stroke="#6e6e67" stroke-width="1" stroke-dasharray="3 2"/>
<line x1="514.50" y1="168.10" x2="514.50" y2="264.90" stroke="#6e6e67" stroke-width="1" stroke-dasharray="3 2"/>
<line x1="528.50" y1="168.10" x2="528.50" y2="264.90" stroke="#6e6e67" stroke-width="1" stroke-dasharray="3 2"/>
<line x1="543.50" y1="168.10" x2="543.50" y2="264.90" stroke="#6e6e67" stroke-width="1" stroke-dasharray="3 2"/>
<line x1="558.50" y1="168.10" x2="558.50" y2="264.90" stroke="#6e6e67" stroke-width="1" stroke-dasharray="3 2"/>
<line x1="572.50" y1="168.10" x2="572.50" y2="264.90" stroke="#6e6e67" stroke-width="1" stroke-dasharray="3 2"/>
<line x1="587.50" y1="168.10" x2="587.50" y2="264.90" stroke="#6e6e67" stroke-width="1" stroke-dasharray="3 2"/>
<line x1="601.50" y1="168.10" x2="601.50" y2="264.90" stroke="#6e6e67" stroke-width="1" stroke-dasharray="3 2"/>
<line x1="616.50" y1="168.10" x2="616.50" y2="264.90" stroke="#6e6e67" stroke-width="1" stroke-dasharray="3 2"/>
<line x1="630.50" y1="168.10" x2="630.50" y2="264.90" stroke="#6e6e67" stroke-width="1" stroke-dasharray="3 2"/>
<line x1="645.50" y1="168.10" x2="645.50" y2="264.90" stroke="#6e6e67" stroke-width="1" stroke-dasharray="3 2"/>
<line x1="660.50" y1="168.10" x2="660.50" y2="264.90" stroke="#6e6e67" stroke-width="1" stroke-dasharray="3 2"/>
<line x1="674.50" y1="168.10" x2="674.50" y2="264.90" stroke="#6e6e67" stroke-width="1" stroke-dasharray="3 2"/>
<line x1="689.50" y1="168.10" x2="689.50" y2="264.90" stroke="#6e6e67" stroke-width="1" stroke-dasharray="3 2"/>
<line x1="34.80" y1="200.60" x2="703.60" y2="200.60" stroke="#92928a" stroke-width="1" stroke-dasharray="3 2"/>
<line x1="34.80" y1="233.70" x2="703.60" y2="233.70" stroke="#92928a" stroke-width="1" stroke-dasharray="3 2"/>
<rect x="33.80" y="167.05" width="670.30" height="1.1" fill="#1c1c1c"/>
<line x1="703.60" y1="167.10" x2="703.60" y2="266.90" stroke="#111" stroke-width="1.1"/>
<polyline clip-path="url(#c1)" points="33.50,134.40 48.50,134.40 63.50,134.40 77.50,134.40 92.50,134.40 106.50,167.50 121.50,200.60 135.50,167.50 150.50,200.60 164.50,200.60 179.50,200.60 194.50,200.60 208.50,200.60 223.50,200.60 237.50,200.60 252.50,200.60 266.50,200.60 281.50,200.60 296.50,200.60 310.50,200.60 325.50,200.60 339.50,200.60 354.50,200.60 368.50,200.60 383.50,200.60 397.50,200.60 412.50,200.60 427.50,233.70 441.50,233.70 456.50,233.70 470.50,233.70 485.50,233.70 499.50,268.45 514.50,268.45 528.50,268.45 543.50,268.45 558.50,268.45 572.50,268.45 587.50,268.45 601.50,268.45 616.50,268.45 630.50,268.45 645.50,233.70 660.50,233.70 674.50,233.70 689.50,233.70 703.50,233.70" fill="none" stroke="#1e8a1e" stroke-width="1.15" stroke-linejoin="round"/>
<line x1="36.41" y1="266.90" x2="36.41" y2="269.10" stroke="#8f8f87" stroke-width="1"/>
<line x1="39.33" y1="266.90" x2="39.33" y2="269.10" stroke="#8f8f87" stroke-width="1"/>
<line x1="42.24" y1="266.90" x2="42.24" y2="269.10" stroke="#8f8f87" stroke-width="1"/>
<line x1="45.16" y1="266.90" x2="45.16" y2="269.10" stroke="#8f8f87" stroke-width="1"/>
<line x1="51.41" y1="266.90" x2="51.41" y2="269.10" stroke="#8f8f87" stroke-width="1"/>
<line x1="54.33" y1="266.90" x2="54.33" y2="269.10" stroke="#8f8f87" stroke-width="1"/>
<line x1="57.24" y1="266.90" x2="57.24" y2="269.10" stroke="#8f8f87" stroke-width="1"/>
<line x1="60.16" y1="266.90" x2="60.16" y2="269.10" stroke="#8f8f87" stroke-width="1"/>
<line x1="66.41" y1="266.90" x2="66.41" y2="269.10" stroke="#8f8f87" stroke-width="1"/>
<line x1="69.33" y1="266.90" x2="69.33" y2="269.10" stroke="#8f8f87" stroke-width="1"/>
<line x1="72.24" y1="266.90" x2="72.24" y2="269.10" stroke="#8f8f87" stroke-width="1"/>
<line x1="75.16" y1="266.90" x2="75.16" y2="269.10" stroke="#8f8f87" stroke-width="1"/>
<line x1="80.41" y1="266.90" x2="80.41" y2="269.10" stroke="#8f8f87" stroke-width="1"/>
<line x1="83.33" y1="266.90" x2="83.33" y2="269.10" stroke="#8f8f87" stroke-width="1"/>
<line x1="86.24" y1="266.90" x2="86.24" y2="269.10" stroke="#8f8f87" stroke-width="1"/>
<line x1="89.16" y1="266.90" x2="89.16" y2="269.10" stroke="#8f8f87" stroke-width="1"/>
<line x1="95.41" y1="266.90" x2="95.41" y2="269.10" stroke="#8f8f87" stroke-width="1"/>
<line x1="98.33" y1="266.90" x2="98.33" y2="269.10" stroke="#8f8f87" stroke-width="1"/>
<line x1="101.24" y1="266.90" x2="101.24" y2="269.10" stroke="#8f8f87" stroke-width="1"/>
<line x1="104.16" y1="266.90" x2="104.16" y2="269.10" stroke="#8f8f87" stroke-width="1"/>
<line x1="109.41" y1="266.90" x2="109.41" y2="269.10" stroke="#8f8f87" stroke-width="1"/>
<line x1="112.33" y1="266.90" x2="112.33" y2="269.10" stroke="#8f8f87" stroke-width="1"/>
<line x1="115.24" y1="266.90" x2="115.24" y2="269.10" stroke="#8f8f87" stroke-width="1"/>
<line x1="118.16" y1="266.90" x2="118.16" y2="269.10" stroke="#8f8f87" stroke-width="1"/>
<line x1="124.41" y1="266.90" x2="124.41" y2="269.10" stroke="#8f8f87" stroke-width="1"/>
<line x1="127.33" y1="266.90" x2="127.33" y2="269.10" stroke="#8f8f87" stroke-width="1"/>
<line x1="130.24" y1="266.90" x2="130.24" y2="269.10" stroke="#8f8f87" stroke-width="1"/>
<line x1="133.16" y1="266.90" x2="133.16" y2="269.10" stroke="#8f8f87" stroke-width="1"/>
<line x1="138.41" y1="266.90" x2="138.41" y2="269.10" stroke="#8f8f87" stroke-width="1"/>
<line x1="141.33" y1="266.90" x2="141.33" y2="269.10" stroke="#8f8f87" stroke-width="1"/>
<line x1="144.24" y1="266.90" x2="144.24" y2="269.10" stroke="#8f8f87" stroke-width="1"/>
<line x1="147.16" y1="266.90" x2="147.16" y2="269.10" stroke="#8f8f87" stroke-width="1"/>
<line x1="153.41" y1="266.90" x2="153.41" y2="269.10" stroke="#8f8f87" stroke-width="1"/>
<line x1="156.33" y1="266.90" x2="156.33" y2="269.10" stroke="#8f8f87" stroke-width="1"/>
<line x1="159.24" y1="266.90" x2="159.24" y2="269.10" stroke="#8f8f87" stroke-width="1"/>
<line x1="162.16" y1="266.90" x2="162.16" y2="269.10" stroke="#8f8f87" stroke-width="1"/>
<line x1="167.41" y1="266.90" x2="167.41" y2="269.10" stroke="#8f8f87" stroke-width="1"/>
<line x1="170.33" y1="266.90" x2="170.33" y2="269.10" stroke="#8f8f87" stroke-width="1"/>
<line x1="173.24" y1="266.90" x2="173.24" y2="269.10" stroke="#8f8f87" stroke-width="1"/>
<line x1="176.16" y1="266.90" x2="176.16" y2="269.10" stroke="#8f8f87" stroke-width="1"/>
<line x1="182.41" y1="266.90" x2="182.41" y2="269.10" stroke="#8f8f87" stroke-width="1"/>
<line x1="185.33" y1="266.90" x2="185.33" y2="269.10" stroke="#8f8f87" stroke-width="1"/>
<line x1="188.24" y1="266.90" x2="188.24" y2="269.10" stroke="#8f8f87" stroke-width="1"/>
<line x1="191.16" y1="266.90" x2="191.16" y2="269.10" stroke="#8f8f87" stroke-width="1"/>
<line x1="197.41" y1="266.90" x2="197.41" y2="269.10" stroke="#8f8f87" stroke-width="1"/>
<line x1="200.33" y1="266.90" x2="200.33" y2="269.10" stroke="#8f8f87" stroke-width="1"/>
<line x1="203.24" y1="266.90" x2="203.24" y2="269.10" stroke="#8f8f87" stroke-width="1"/>
<line x1="206.16" y1="266.90" x2="206.16" y2="269.10" stroke="#8f8f87" stroke-width="1"/>
<line x1="211.41" y1="266.90" x2="211.41" y2="269.10" stroke="#8f8f87" stroke-width="1"/>
<line x1="214.33" y1="266.90" x2="214.33" y2="269.10" stroke="#8f8f87" stroke-width="1"/>
<line x1="217.24" y1="266.90" x2="217.24" y2="269.10" stroke="#8f8f87" stroke-width="1"/>
<line x1="220.16" y1="266.90" x2="220.16" y2="269.10" stroke="#8f8f87" stroke-width="1"/>
<line x1="226.41" y1="266.90" x2="226.41" y2="269.10" stroke="#8f8f87" stroke-width="1"/>
<line x1="229.33" y1="266.90" x2="229.33" y2="269.10" stroke="#8f8f87" stroke-width="1"/>
<line x1="232.24" y1="266.90" x2="232.24" y2="269.10" stroke="#8f8f87" stroke-width="1"/>
<line x1="235.16" y1="266.90" x2="235.16" y2="269.10" stroke="#8f8f87" stroke-width="1"/>
<line x1="240.41" y1="266.90" x2="240.41" y2="269.10" stroke="#8f8f87" stroke-width="1"/>
<line x1="243.33" y1="266.90" x2="243.33" y2="269.10" stroke="#8f8f87" stroke-width="1"/>
<line x1="246.24" y1="266.90" x2="246.24" y2="269.10" stroke="#8f8f87" stroke-width="1"/>
<line x1="249.16" y1="266.90" x2="249.16" y2="269.10" stroke="#8f8f87" stroke-width="1"/>
<line x1="255.41" y1="266.90" x2="255.41" y2="269.10" stroke="#8f8f87" stroke-width="1"/>
<line x1="258.33" y1="266.90" x2="258.33" y2="269.10" stroke="#8f8f87" stroke-width="1"/>
<line x1="261.24" y1="266.90" x2="261.24" y2="269.10" stroke="#8f8f87" stroke-width="1"/>
<line x1="264.16" y1="266.90" x2="264.16" y2="269.10" stroke="#8f8f87" stroke-width="1"/>
<line x1="269.41" y1="266.90" x2="269.41" y2="269.10" stroke="#8f8f87" stroke-width="1"/>
<line x1="272.33" y1="266.90" x2="272.33" y2="269.10" stroke="#8f8f87" stroke-width="1"/>
<line x1="275.24" y1="266.90" x2="275.24" y2="269.10" stroke="#8f8f87" stroke-width="1"/>
<line x1="278.16" y1="266.90" x2="278.16" y2="269.10" stroke="#8f8f87" stroke-width="1"/>
<line x1="284.41" y1="266.90" x2="284.41" y2="269.10" stroke="#8f8f87" stroke-width="1"/>
<line x1="287.33" y1="266.90" x2="287.33" y2="269.10" stroke="#8f8f87" stroke-width="1"/>
<line x1="290.24" y1="266.90" x2="290.24" y2="269.10" stroke="#8f8f87" stroke-width="1"/>
<line x1="293.16" y1="266.90" x2="293.16" y2="269.10" stroke="#8f8f87" stroke-width="1"/>
<line x1="299.41" y1="266.90" x2="299.41" y2="269.10" stroke="#8f8f87" stroke-width="1"/>
<line x1="302.33" y1="266.90" x2="302.33" y2="269.10" stroke="#8f8f87" stroke-width="1"/>
<line x1="305.24" y1="266.90" x2="305.24" y2="269.10" stroke="#8f8f87" stroke-width="1"/>
<line x1="308.16" y1="266.90" x2="308.16" y2="269.10" stroke="#8f8f87" stroke-width="1"/>
<line x1="313.41" y1="266.90" x2="313.41" y2="269.10" stroke="#8f8f87" stroke-width="1"/>
<line x1="316.33" y1="266.90" x2="316.33" y2="269.10" stroke="#8f8f87" stroke-width="1"/>
<line x1="319.24" y1="266.90" x2="319.24" y2="269.10" stroke="#8f8f87" stroke-width="1"/>
<line x1="322.16" y1="266.90" x2="322.16" y2="269.10" stroke="#8f8f87" stroke-width="1"/>
<line x1="328.41" y1="266.90" x2="328.41" y2="269.10" stroke="#8f8f87" stroke-width="1"/>
<line x1="331.33" y1="266.90" x2="331.33" y2="269.10" stroke="#8f8f87" stroke-width="1"/>
<line x1="334.24" y1="266.90" x2="334.24" y2="269.10" stroke="#8f8f87" stroke-width="1"/>
<line x1="337.16" y1="266.90" x2="337.16" y2="269.10" stroke="#8f8f87" stroke-width="1"/>
<line x1="342.41" y1="266.90" x2="342.41" y2="269.10" stroke="#8f8f87" stroke-width="1"/>
<line x1="345.33" y1="266.90" x2="345.33" y2="269.10" stroke="#8f8f87" stroke-width="1"/>
<line x1="348.24" y1="266.90" x2="348.24" y2="269.10" stroke="#8f8f87" stroke-width="1"/>
<line x1="351.16" y1="266.90" x2="351.16" y2="269.10" stroke="#8f8f87" stroke-width="1"/>
<line x1="357.41" y1="266.90" x2="357.41" y2="269.10" stroke="#8f8f87" stroke-width="1"/>
<line x1="360.33" y1="266.90" x2="360.33" y2="269.10" stroke="#8f8f87" stroke-width="1"/>
<line x1="363.24" y1="266.90" x2="363.24" y2="269.10" stroke="#8f8f87" stroke-width="1"/>
<line x1="366.16" y1="266.90" x2="366.16" y2="269.10" stroke="#8f8f87" stroke-width="1"/>
<line x1="371.41" y1="266.90" x2="371.41" y2="269.10" stroke="#8f8f87" stroke-width="1"/>
<line x1="374.33" y1="266.90" x2="374.33" y2="269.10" stroke="#8f8f87" stroke-width="1"/>
<line x1="377.24" y1="266.90" x2="377.24" y2="269.10" stroke="#8f8f87" stroke-width="1"/>
<line x1="380.16" y1="266.90" x2="380.16" y2="269.10" stroke="#8f8f87" stroke-width="1"/>
<line x1="386.41" y1="266.90" x2="386.41" y2="269.10" stroke="#8f8f87" stroke-width="1"/>
<line x1="389.33" y1="266.90" x2="389.33" y2="269.10" stroke="#8f8f87" stroke-width="1"/>
<line x1="392.24" y1="266.90" x2="392.24" y2="269.10" stroke="#8f8f87" stroke-width="1"/>
<line x1="395.16" y1="266.90" x2="395.16" y2="269.10" stroke="#8f8f87" stroke-width="1"/>
<line x1="400.41" y1="266.90" x2="400.41" y2="269.10" stroke="#8f8f87" stroke-width="1"/>
<line x1="403.33" y1="266.90" x2="403.33" y2="269.10" stroke="#8f8f87" stroke-width="1"/>
<line x1="406.24" y1="266.90" x2="406.24" y2="269.10" stroke="#8f8f87" stroke-width="1"/>
<line x1="409.16" y1="266.90" x2="409.16" y2="269.10" stroke="#8f8f87" stroke-width="1"/>
<line x1="415.41" y1="266.90" x2="415.41" y2="269.10" stroke="#8f8f87" stroke-width="1"/>
<line x1="418.33" y1="266.90" x2="418.33" y2="269.10" stroke="#8f8f87" stroke-width="1"/>
<line x1="421.24" y1="266.90" x2="421.24" y2="269.10" stroke="#8f8f87" stroke-width="1"/>
<line x1="424.16" y1="266.90" x2="424.16" y2="269.10" stroke="#8f8f87" stroke-width="1"/>
<line x1="430.41" y1="266.90" x2="430.41" y2="269.10" stroke="#8f8f87" stroke-width="1"/>
<line x1="433.33" y1="266.90" x2="433.33" y2="269.10" stroke="#8f8f87" stroke-width="1"/>
<line x1="436.24" y1="266.90" x2="436.24" y2="269.10" stroke="#8f8f87" stroke-width="1"/>
<line x1="439.16" y1="266.90" x2="439.16" y2="269.10" stroke="#8f8f87" stroke-width="1"/>
<line x1="444.41" y1="266.90" x2="444.41" y2="269.10" stroke="#8f8f87" stroke-width="1"/>
<line x1="447.33" y1="266.90" x2="447.33" y2="269.10" stroke="#8f8f87" stroke-width="1"/>
<line x1="450.24" y1="266.90" x2="450.24" y2="269.10" stroke="#8f8f87" stroke-width="1"/>
<line x1="453.16" y1="266.90" x2="453.16" y2="269.10" stroke="#8f8f87" stroke-width="1"/>
<line x1="459.41" y1="266.90" x2="459.41" y2="269.10" stroke="#8f8f87" stroke-width="1"/>
<line x1="462.33" y1="266.90" x2="462.33" y2="269.10" stroke="#8f8f87" stroke-width="1"/>
<line x1="465.24" y1="266.90" x2="465.24" y2="269.10" stroke="#8f8f87" stroke-width="1"/>
<line x1="468.16" y1="266.90" x2="468.16" y2="269.10" stroke="#8f8f87" stroke-width="1"/>
<line x1="473.41" y1="266.90" x2="473.41" y2="269.10" stroke="#8f8f87" stroke-width="1"/>
<line x1="476.33" y1="266.90" x2="476.33" y2="269.10" stroke="#8f8f87" stroke-width="1"/>
<line x1="479.24" y1="266.90" x2="479.24" y2="269.10" stroke="#8f8f87" stroke-width="1"/>
<line x1="482.16" y1="266.90" x2="482.16" y2="269.10" stroke="#8f8f87" stroke-width="1"/>
<line x1="488.41" y1="266.90" x2="488.41" y2="269.10" stroke="#8f8f87" stroke-width="1"/>
<line x1="491.33" y1="266.90" x2="491.33" y2="269.10" stroke="#8f8f87" stroke-width="1"/>
<line x1="494.24" y1="266.90" x2="494.24" y2="269.10" stroke="#8f8f87" stroke-width="1"/>
<line x1="497.16" y1="266.90" x2="497.16" y2="269.10" stroke="#8f8f87" stroke-width="1"/>
<line x1="502.41" y1="266.90" x2="502.41" y2="269.10" stroke="#8f8f87" stroke-width="1"/>
<line x1="505.33" y1="266.90" x2="505.33" y2="269.10" stroke="#8f8f87" stroke-width="1"/>
<line x1="508.24" y1="266.90" x2="508.24" y2="269.10" stroke="#8f8f87" stroke-width="1"/>
<line x1="511.16" y1="266.90" x2="511.16" y2="269.10" stroke="#8f8f87" stroke-width="1"/>
<line x1="517.41" y1="266.90" x2="517.41" y2="269.10" stroke="#8f8f87" stroke-width="1"/>
<line x1="520.33" y1="266.90" x2="520.33" y2="269.10" stroke="#8f8f87" stroke-width="1"/>
<line x1="523.24" y1="266.90" x2="523.24" y2="269.10" stroke="#8f8f87" stroke-width="1"/>
<line x1="526.16" y1="266.90" x2="526.16" y2="269.10" stroke="#8f8f87" stroke-width="1"/>
<line x1="531.41" y1="266.90" x2="531.41" y2="269.10" stroke="#8f8f87" stroke-width="1"/>
<line x1="534.33" y1="266.90" x2="534.33" y2="269.10" stroke="#8f8f87" stroke-width="1"/>
<line x1="537.24" y1="266.90" x2="537.24" y2="269.10" stroke="#8f8f87" stroke-width="1"/>
<line x1="540.16" y1="266.90" x2="540.16" y2="269.10" stroke="#8f8f87" stroke-width="1"/>
<line x1="546.41" y1="266.90" x2="546.41" y2="269.10" stroke="#8f8f87" stroke-width="1"/>
<line x1="549.33" y1="266.90" x2="549.33" y2="269.10" stroke="#8f8f87" stroke-width="1"/>
<line x1="552.24" y1="266.90" x2="552.24" y2="269.10" stroke="#8f8f87" stroke-width="1"/>
<line x1="555.16" y1="266.90" x2="555.16" y2="269.10" stroke="#8f8f87" stroke-width="1"/>
<line x1="561.41" y1="266.90" x2="561.41" y2="269.10" stroke="#8f8f87" stroke-width="1"/>
<line x1="564.33" y1="266.90" x2="564.33" y2="269.10" stroke="#8f8f87" stroke-width="1"/>
<line x1="567.24" y1="266.90" x2="567.24" y2="269.10" stroke="#8f8f87" stroke-width="1"/>
<line x1="570.16" y1="266.90" x2="570.16" y2="269.10" stroke="#8f8f87" stroke-width="1"/>
<line x1="575.41" y1="266.90" x2="575.41" y2="269.10" stroke="#8f8f87" stroke-width="1"/>
<line x1="578.33" y1="266.90" x2="578.33" y2="269.10" stroke="#8f8f87" stroke-width="1"/>
<line x1="581.24" y1="266.90" x2="581.24" y2="269.10" stroke="#8f8f87" stroke-width="1"/>
<line x1="584.16" y1="266.90" x2="584.16" y2="269.10" stroke="#8f8f87" stroke-width="1"/>
<line x1="590.41" y1="266.90" x2="590.41" y2="269.10" stroke="#8f8f87" stroke-width="1"/>
<line x1="593.33" y1="266.90" x2="593.33" y2="269.10" stroke="#8f8f87" stroke-width="1"/>
<line x1="596.24" y1="266.90" x2="596.24" y2="269.10" stroke="#8f8f87" stroke-width="1"/>
<line x1="599.16" y1="266.90" x2="599.16" y2="269.10" stroke="#8f8f87" stroke-width="1"/>
<line x1="604.41" y1="266.90" x2="604.41" y2="269.10" stroke="#8f8f87" stroke-width="1"/>
<line x1="607.33" y1="266.90" x2="607.33" y2="269.10" stroke="#8f8f87" stroke-width="1"/>
<line x1="610.24" y1="266.90" x2="610.24" y2="269.10" stroke="#8f8f87" stroke-width="1"/>
<line x1="613.16" y1="266.90" x2="613.16" y2="269.10" stroke="#8f8f87" stroke-width="1"/>
<line x1="619.41" y1="266.90" x2="619.41" y2="269.10" stroke="#8f8f87" stroke-width="1"/>
<line x1="622.33" y1="266.90" x2="622.33" y2="269.10" stroke="#8f8f87" stroke-width="1"/>
<line x1="625.24" y1="266.90" x2="625.24" y2="269.10" stroke="#8f8f87" stroke-width="1"/>
<line x1="628.16" y1="266.90" x2="628.16" y2="269.10" stroke="#8f8f87" stroke-width="1"/>
<line x1="633.41" y1="266.90" x2="633.41" y2="269.10" stroke="#8f8f87" stroke-width="1"/>
<line x1="636.33" y1="266.90" x2="636.33" y2="269.10" stroke="#8f8f87" stroke-width="1"/>
<line x1="639.24" y1="266.90" x2="639.24" y2="269.10" stroke="#8f8f87" stroke-width="1"/>
<line x1="642.16" y1="266.90" x2="642.16" y2="269.10" stroke="#8f8f87" stroke-width="1"/>
<line x1="648.41" y1="266.90" x2="648.41" y2="269.10" stroke="#8f8f87" stroke-width="1"/>
<line x1="651.33" y1="266.90" x2="651.33" y2="269.10" stroke="#8f8f87" stroke-width="1"/>
<line x1="654.24" y1="266.90" x2="654.24" y2="269.10" stroke="#8f8f87" stroke-width="1"/>
<line x1="657.16" y1="266.90" x2="657.16" y2="269.10" stroke="#8f8f87" stroke-width="1"/>
<line x1="663.41" y1="266.90" x2="663.41" y2="269.10" stroke="#8f8f87" stroke-width="1"/>
<line x1="666.33" y1="266.90" x2="666.33" y2="269.10" stroke="#8f8f87" stroke-width="1"/>
<line x1="669.24" y1="266.90" x2="669.24" y2="269.10" stroke="#8f8f87" stroke-width="1"/>
<line x1="672.16" y1="266.90" x2="672.16" y2="269.10" stroke="#8f8f87" stroke-width="1"/>
<line x1="677.41" y1="266.90" x2="677.41" y2="269.10" stroke="#8f8f87" stroke-width="1"/>
<line x1="680.33" y1="266.90" x2="680.33" y2="269.10" stroke="#8f8f87" stroke-width="1"/>
<line x1="683.24" y1="266.90" x2="683.24" y2="269.10" stroke="#8f8f87" stroke-width="1"/>
<line x1="686.16" y1="266.90" x2="686.16" y2="269.10" stroke="#8f8f87" stroke-width="1"/>
<line x1="692.41" y1="266.90" x2="692.41" y2="269.10" stroke="#8f8f87" stroke-width="1"/>
<line x1="695.33" y1="266.90" x2="695.33" y2="269.10" stroke="#8f8f87" stroke-width="1"/>
<line x1="698.24" y1="266.90" x2="698.24" y2="269.10" stroke="#8f8f87" stroke-width="1"/>
<line x1="701.16" y1="266.90" x2="701.16" y2="269.10" stroke="#8f8f87" stroke-width="1"/>
<line x1="48.50" y1="266.90" x2="48.50" y2="270.50" stroke="#3c3c38" stroke-width="1"/>
<line x1="63.50" y1="266.90" x2="63.50" y2="270.50" stroke="#3c3c38" stroke-width="1"/>
<line x1="77.50" y1="266.90" x2="77.50" y2="270.50" stroke="#3c3c38" stroke-width="1"/>
<line x1="92.50" y1="266.90" x2="92.50" y2="270.50" stroke="#3c3c38" stroke-width="1"/>
<line x1="106.50" y1="266.90" x2="106.50" y2="270.50" stroke="#3c3c38" stroke-width="1"/>
<line x1="121.50" y1="266.90" x2="121.50" y2="270.50" stroke="#3c3c38" stroke-width="1"/>
<line x1="135.50" y1="266.90" x2="135.50" y2="270.50" stroke="#3c3c38" stroke-width="1"/>
<line x1="150.50" y1="266.90" x2="150.50" y2="270.50" stroke="#3c3c38" stroke-width="1"/>
<line x1="164.50" y1="266.90" x2="164.50" y2="270.50" stroke="#3c3c38" stroke-width="1"/>
<line x1="179.50" y1="266.90" x2="179.50" y2="270.50" stroke="#3c3c38" stroke-width="1"/>
<line x1="194.50" y1="266.90" x2="194.50" y2="270.50" stroke="#3c3c38" stroke-width="1"/>
<line x1="208.50" y1="266.90" x2="208.50" y2="270.50" stroke="#3c3c38" stroke-width="1"/>
<line x1="223.50" y1="266.90" x2="223.50" y2="270.50" stroke="#3c3c38" stroke-width="1"/>
<line x1="237.50" y1="266.90" x2="237.50" y2="270.50" stroke="#3c3c38" stroke-width="1"/>
<line x1="252.50" y1="266.90" x2="252.50" y2="270.50" stroke="#3c3c38" stroke-width="1"/>
<line x1="266.50" y1="266.90" x2="266.50" y2="270.50" stroke="#3c3c38" stroke-width="1"/>
<line x1="281.50" y1="266.90" x2="281.50" y2="270.50" stroke="#3c3c38" stroke-width="1"/>
<line x1="296.50" y1="266.90" x2="296.50" y2="270.50" stroke="#3c3c38" stroke-width="1"/>
<line x1="310.50" y1="266.90" x2="310.50" y2="270.50" stroke="#3c3c38" stroke-width="1"/>
<line x1="325.50" y1="266.90" x2="325.50" y2="270.50" stroke="#3c3c38" stroke-width="1"/>
<line x1="339.50" y1="266.90" x2="339.50" y2="270.50" stroke="#3c3c38" stroke-width="1"/>
<line x1="354.50" y1="266.90" x2="354.50" y2="270.50" stroke="#3c3c38" stroke-width="1"/>
<line x1="368.50" y1="266.90" x2="368.50" y2="270.50" stroke="#3c3c38" stroke-width="1"/>
<line x1="383.50" y1="266.90" x2="383.50" y2="270.50" stroke="#3c3c38" stroke-width="1"/>
<line x1="397.50" y1="266.90" x2="397.50" y2="270.50" stroke="#3c3c38" stroke-width="1"/>
<line x1="412.50" y1="266.90" x2="412.50" y2="270.50" stroke="#3c3c38" stroke-width="1"/>
<line x1="427.50" y1="266.90" x2="427.50" y2="270.50" stroke="#3c3c38" stroke-width="1"/>
<line x1="441.50" y1="266.90" x2="441.50" y2="270.50" stroke="#3c3c38" stroke-width="1"/>
<line x1="456.50" y1="266.90" x2="456.50" y2="270.50" stroke="#3c3c38" stroke-width="1"/>
<line x1="470.50" y1="266.90" x2="470.50" y2="270.50" stroke="#3c3c38" stroke-width="1"/>
<line x1="485.50" y1="266.90" x2="485.50" y2="270.50" stroke="#3c3c38" stroke-width="1"/>
<line x1="499.50" y1="266.90" x2="499.50" y2="270.50" stroke="#3c3c38" stroke-width="1"/>
<line x1="514.50" y1="266.90" x2="514.50" y2="270.50" stroke="#3c3c38" stroke-width="1"/>
<line x1="528.50" y1="266.90" x2="528.50" y2="270.50" stroke="#3c3c38" stroke-width="1"/>
<line x1="543.50" y1="266.90" x2="543.50" y2="270.50" stroke="#3c3c38" stroke-width="1"/>
<line x1="558.50" y1="266.90" x2="558.50" y2="270.50" stroke="#3c3c38" stroke-width="1"/>
<line x1="572.50" y1="266.90" x2="572.50" y2="270.50" stroke="#3c3c38" stroke-width="1"/>
<line x1="587.50" y1="266.90" x2="587.50" y2="270.50" stroke="#3c3c38" stroke-width="1"/>
<line x1="601.50" y1="266.90" x2="601.50" y2="270.50" stroke="#3c3c38" stroke-width="1"/>
<line x1="616.50" y1="266.90" x2="616.50" y2="270.50" stroke="#3c3c38" stroke-width="1"/>
<line x1="630.50" y1="266.90" x2="630.50" y2="270.50" stroke="#3c3c38" stroke-width="1"/>
<line x1="645.50" y1="266.90" x2="645.50" y2="270.50" stroke="#3c3c38" stroke-width="1"/>
<line x1="660.50" y1="266.90" x2="660.50" y2="270.50" stroke="#3c3c38" stroke-width="1"/>
<line x1="674.50" y1="266.90" x2="674.50" y2="270.50" stroke="#3c3c38" stroke-width="1"/>
<line x1="689.50" y1="266.90" x2="689.50" y2="270.50" stroke="#3c3c38" stroke-width="1"/>
<line x1="703.50" y1="266.90" x2="703.50" y2="270.50" stroke="#3c3c38" stroke-width="1"/>
<rect x="33.1" y="167.50" width="2" height="99.40" fill="#000"/>
<rect x="33.1" y="265.10" width="671.00" height="1.85" fill="#000"/>
<line x1="30.00" y1="167.50" x2="33.30" y2="167.50" stroke="#222" stroke-width="1"/>
<line x1="32.00" y1="175.78" x2="33.30" y2="175.78" stroke="#66665f" stroke-width="1"/>
<line x1="32.00" y1="184.05" x2="33.30" y2="184.05" stroke="#66665f" stroke-width="1"/>
<line x1="32.00" y1="192.32" x2="33.30" y2="192.32" stroke="#66665f" stroke-width="1"/>
<text x="28.0" y="170.90" text-anchor="end" textLength="24.0" lengthAdjust="spacing" class="yl">1026</text>
<line x1="30.00" y1="200.60" x2="33.30" y2="200.60" stroke="#222" stroke-width="1"/>
<line x1="32.00" y1="208.88" x2="33.30" y2="208.88" stroke="#66665f" stroke-width="1"/>
<line x1="32.00" y1="217.15" x2="33.30" y2="217.15" stroke="#66665f" stroke-width="1"/>
<line x1="32.00" y1="225.42" x2="33.30" y2="225.42" stroke="#66665f" stroke-width="1"/>
<text x="28.0" y="204.00" text-anchor="end" textLength="24.0" lengthAdjust="spacing" class="yl">1025</text>
<line x1="30.00" y1="233.70" x2="33.30" y2="233.70" stroke="#222" stroke-width="1"/>
<line x1="32.00" y1="241.93" x2="33.30" y2="241.93" stroke="#66665f" stroke-width="1"/>
<line x1="32.00" y1="250.15" x2="33.30" y2="250.15" stroke="#66665f" stroke-width="1"/>
<line x1="32.00" y1="258.38" x2="33.30" y2="258.38" stroke="#66665f" stroke-width="1"/>
<text x="28.0" y="237.10" text-anchor="end" textLength="24.0" lengthAdjust="spacing" class="yl">1024</text>
<line x1="30.00" y1="266.60" x2="33.30" y2="266.60" stroke="#222" stroke-width="1"/>
<text x="28.0" y="270.00" text-anchor="end" textLength="24.0" lengthAdjust="spacing" class="yl">1023</text>
<text x="310.8" y="159.8" textLength="65.5" lengthAdjust="spacingAndGlyphs" class="pt">Luftdruck (hPa)</text>
<clipPath id="c2"><rect x="33.8" y="293.3" width="670.3000000000001" height="98.19999999999999"/></clipPath>
<line x1="48.50" y1="294.30" x2="48.50" y2="390.50" stroke="#6e6e67" stroke-width="1" stroke-dasharray="3 2"/>
<line x1="63.50" y1="294.30" x2="63.50" y2="390.50" stroke="#6e6e67" stroke-width="1" stroke-dasharray="3 2"/>
<line x1="77.50" y1="294.30" x2="77.50" y2="390.50" stroke="#6e6e67" stroke-width="1" stroke-dasharray="3 2"/>
<line x1="92.50" y1="294.30" x2="92.50" y2="390.50" stroke="#6e6e67" stroke-width="1" stroke-dasharray="3 2"/>
<line x1="106.50" y1="294.30" x2="106.50" y2="390.50" stroke="#6e6e67" stroke-width="1" stroke-dasharray="3 2"/>
<line x1="121.50" y1="294.30" x2="121.50" y2="390.50" stroke="#6e6e67" stroke-width="1" stroke-dasharray="3 2"/>
<line x1="135.50" y1="294.30" x2="135.50" y2="390.50" stroke="#6e6e67" stroke-width="1" stroke-dasharray="3 2"/>
<line x1="150.50" y1="294.30" x2="150.50" y2="390.50" stroke="#6e6e67" stroke-width="1" stroke-dasharray="3 2"/>
<line x1="164.50" y1="294.30" x2="164.50" y2="390.50" stroke="#6e6e67" stroke-width="1" stroke-dasharray="3 2"/>
<line x1="179.50" y1="294.30" x2="179.50" y2="390.50" stroke="#6e6e67" stroke-width="1" stroke-dasharray="3 2"/>
<line x1="194.50" y1="294.30" x2="194.50" y2="390.50" stroke="#6e6e67" stroke-width="1" stroke-dasharray="3 2"/>
<line x1="208.50" y1="294.30" x2="208.50" y2="390.50" stroke="#6e6e67" stroke-width="1" stroke-dasharray="3 2"/>
<line x1="223.50" y1="294.30" x2="223.50" y2="390.50" stroke="#6e6e67" stroke-width="1" stroke-dasharray="3 2"/>
<line x1="237.50" y1="294.30" x2="237.50" y2="390.50" stroke="#6e6e67" stroke-width="1" stroke-dasharray="3 2"/>
<line x1="252.50" y1="294.30" x2="252.50" y2="390.50" stroke="#6e6e67" stroke-width="1" stroke-dasharray="3 2"/>
<line x1="266.50" y1="294.30" x2="266.50" y2="390.50" stroke="#6e6e67" stroke-width="1" stroke-dasharray="3 2"/>
<line x1="281.50" y1="294.30" x2="281.50" y2="390.50" stroke="#6e6e67" stroke-width="1" stroke-dasharray="3 2"/>
<line x1="296.50" y1="294.30" x2="296.50" y2="390.50" stroke="#6e6e67" stroke-width="1" stroke-dasharray="3 2"/>
<line x1="310.50" y1="294.30" x2="310.50" y2="390.50" stroke="#6e6e67" stroke-width="1" stroke-dasharray="3 2"/>
<line x1="325.50" y1="294.30" x2="325.50" y2="390.50" stroke="#6e6e67" stroke-width="1" stroke-dasharray="3 2"/>
<line x1="339.50" y1="294.30" x2="339.50" y2="390.50" stroke="#6e6e67" stroke-width="1" stroke-dasharray="3 2"/>
<line x1="354.50" y1="294.30" x2="354.50" y2="390.50" stroke="#6e6e67" stroke-width="1" stroke-dasharray="3 2"/>
<line x1="368.50" y1="294.30" x2="368.50" y2="390.50" stroke="#6e6e67" stroke-width="1" stroke-dasharray="3 2"/>
<line x1="383.50" y1="294.30" x2="383.50" y2="390.50" stroke="#6e6e67" stroke-width="1" stroke-dasharray="3 2"/>
<line x1="397.50" y1="294.30" x2="397.50" y2="390.50" stroke="#6e6e67" stroke-width="1" stroke-dasharray="3 2"/>
<line x1="412.50" y1="294.30" x2="412.50" y2="390.50" stroke="#6e6e67" stroke-width="1" stroke-dasharray="3 2"/>
<line x1="427.50" y1="294.30" x2="427.50" y2="390.50" stroke="#6e6e67" stroke-width="1" stroke-dasharray="3 2"/>
<line x1="441.50" y1="294.30" x2="441.50" y2="390.50" stroke="#6e6e67" stroke-width="1" stroke-dasharray="3 2"/>
<line x1="456.50" y1="294.30" x2="456.50" y2="390.50" stroke="#6e6e67" stroke-width="1" stroke-dasharray="3 2"/>
<line x1="470.50" y1="294.30" x2="470.50" y2="390.50" stroke="#6e6e67" stroke-width="1" stroke-dasharray="3 2"/>
<line x1="485.50" y1="294.30" x2="485.50" y2="390.50" stroke="#6e6e67" stroke-width="1" stroke-dasharray="3 2"/>
<line x1="499.50" y1="294.30" x2="499.50" y2="390.50" stroke="#6e6e67" stroke-width="1" stroke-dasharray="3 2"/>
<line x1="514.50" y1="294.30" x2="514.50" y2="390.50" stroke="#6e6e67" stroke-width="1" stroke-dasharray="3 2"/>
<line x1="528.50" y1="294.30" x2="528.50" y2="390.50" stroke="#6e6e67" stroke-width="1" stroke-dasharray="3 2"/>
<line x1="543.50" y1="294.30" x2="543.50" y2="390.50" stroke="#6e6e67" stroke-width="1" stroke-dasharray="3 2"/>
<line x1="558.50" y1="294.30" x2="558.50" y2="390.50" stroke="#6e6e67" stroke-width="1" stroke-dasharray="3 2"/>
<line x1="572.50" y1="294.30" x2="572.50" y2="390.50" stroke="#6e6e67" stroke-width="1" stroke-dasharray="3 2"/>
<line x1="587.50" y1="294.30" x2="587.50" y2="390.50" stroke="#6e6e67" stroke-width="1" stroke-dasharray="3 2"/>
<line x1="601.50" y1="294.30" x2="601.50" y2="390.50" stroke="#6e6e67" stroke-width="1" stroke-dasharray="3 2"/>
<line x1="616.50" y1="294.30" x2="616.50" y2="390.50" stroke="#6e6e67" stroke-width="1" stroke-dasharray="3 2"/>
<line x1="630.50" y1="294.30" x2="630.50" y2="390.50" stroke="#6e6e67" stroke-width="1" stroke-dasharray="3 2"/>
<line x1="645.50" y1="294.30" x2="645.50" y2="390.50" stroke="#6e6e67" stroke-width="1" stroke-dasharray="3 2"/>
<line x1="660.50" y1="294.30" x2="660.50" y2="390.50" stroke="#6e6e67" stroke-width="1" stroke-dasharray="3 2"/>
<line x1="674.50" y1="294.30" x2="674.50" y2="390.50" stroke="#6e6e67" stroke-width="1" stroke-dasharray="3 2"/>
<line x1="689.50" y1="294.30" x2="689.50" y2="390.50" stroke="#6e6e67" stroke-width="1" stroke-dasharray="3 2"/>
<line x1="34.80" y1="295.40" x2="703.60" y2="295.40" stroke="#92928a" stroke-width="1" stroke-dasharray="3 2"/>
<line x1="34.80" y1="316.00" x2="703.60" y2="316.00" stroke="#92928a" stroke-width="1" stroke-dasharray="3 2"/>
<line x1="34.80" y1="336.40" x2="703.60" y2="336.40" stroke="#92928a" stroke-width="1" stroke-dasharray="3 2"/>
<line x1="34.80" y1="356.80" x2="703.60" y2="356.80" stroke="#92928a" stroke-width="1" stroke-dasharray="3 2"/>
<line x1="34.80" y1="377.20" x2="703.60" y2="377.20" stroke="#92928a" stroke-width="1" stroke-dasharray="3 2"/>
<rect x="33.80" y="293.25" width="670.30" height="1.1" fill="#1c1c1c"/>
<line x1="703.60" y1="293.30" x2="703.60" y2="392.50" stroke="#111" stroke-width="1.1"/>
<polyline clip-path="url(#c2)" points="33.50,319.70 48.50,316.00 63.50,314.00 77.50,309.80 92.50,307.80 106.50,304.10 121.50,300.40 135.50,300.10 150.50,298.70 164.50,298.40 179.50,295.40 194.50,294.20 208.50,294.40 223.50,298.40 237.50,294.90 252.50,294.90 266.50,298.40 281.50,298.40 296.50,300.40 310.50,308.30 325.50,314.50 339.50,327.70 354.50,346.30 368.50,362.40 383.50,368.60 397.50,370.30 412.50,370.30 427.50,380.20 441.50,380.70 456.50,385.20 470.50,390.90 485.50,391.60 499.50,387.70 514.50,384.70 528.50,378.50 543.50,368.60 558.50,364.40 572.50,356.20 587.50,348.70 601.50,336.40 616.50,326.40 630.50,319.70 645.50,313.50 660.50,307.30 674.50,305.90 689.50,303.40 703.50,303.40" fill="none" stroke="#2a2ac4" stroke-width="1.15" stroke-linejoin="round"/>
<line x1="36.41" y1="392.50" x2="36.41" y2="394.70" stroke="#8f8f87" stroke-width="1"/>
<line x1="39.33" y1="392.50" x2="39.33" y2="394.70" stroke="#8f8f87" stroke-width="1"/>
<line x1="42.24" y1="392.50" x2="42.24" y2="394.70" stroke="#8f8f87" stroke-width="1"/>
<line x1="45.16" y1="392.50" x2="45.16" y2="394.70" stroke="#8f8f87" stroke-width="1"/>
<line x1="51.41" y1="392.50" x2="51.41" y2="394.70" stroke="#8f8f87" stroke-width="1"/>
<line x1="54.33" y1="392.50" x2="54.33" y2="394.70" stroke="#8f8f87" stroke-width="1"/>
<line x1="57.24" y1="392.50" x2="57.24" y2="394.70" stroke="#8f8f87" stroke-width="1"/>
<line x1="60.16" y1="392.50" x2="60.16" y2="394.70" stroke="#8f8f87" stroke-width="1"/>
<line x1="66.41" y1="392.50" x2="66.41" y2="394.70" stroke="#8f8f87" stroke-width="1"/>
<line x1="69.33" y1="392.50" x2="69.33" y2="394.70" stroke="#8f8f87" stroke-width="1"/>
<line x1="72.24" y1="392.50" x2="72.24" y2="394.70" stroke="#8f8f87" stroke-width="1"/>
<line x1="75.16" y1="392.50" x2="75.16" y2="394.70" stroke="#8f8f87" stroke-width="1"/>
<line x1="80.41" y1="392.50" x2="80.41" y2="394.70" stroke="#8f8f87" stroke-width="1"/>
<line x1="83.33" y1="392.50" x2="83.33" y2="394.70" stroke="#8f8f87" stroke-width="1"/>
<line x1="86.24" y1="392.50" x2="86.24" y2="394.70" stroke="#8f8f87" stroke-width="1"/>
<line x1="89.16" y1="392.50" x2="89.16" y2="394.70" stroke="#8f8f87" stroke-width="1"/>
<line x1="95.41" y1="392.50" x2="95.41" y2="394.70" stroke="#8f8f87" stroke-width="1"/>
<line x1="98.33" y1="392.50" x2="98.33" y2="394.70" stroke="#8f8f87" stroke-width="1"/>
<line x1="101.24" y1="392.50" x2="101.24" y2="394.70" stroke="#8f8f87" stroke-width="1"/>
<line x1="104.16" y1="392.50" x2="104.16" y2="394.70" stroke="#8f8f87" stroke-width="1"/>
<line x1="109.41" y1="392.50" x2="109.41" y2="394.70" stroke="#8f8f87" stroke-width="1"/>
<line x1="112.33" y1="392.50" x2="112.33" y2="394.70" stroke="#8f8f87" stroke-width="1"/>
<line x1="115.24" y1="392.50" x2="115.24" y2="394.70" stroke="#8f8f87" stroke-width="1"/>
<line x1="118.16" y1="392.50" x2="118.16" y2="394.70" stroke="#8f8f87" stroke-width="1"/>
<line x1="124.41" y1="392.50" x2="124.41" y2="394.70" stroke="#8f8f87" stroke-width="1"/>
<line x1="127.33" y1="392.50" x2="127.33" y2="394.70" stroke="#8f8f87" stroke-width="1"/>
<line x1="130.24" y1="392.50" x2="130.24" y2="394.70" stroke="#8f8f87" stroke-width="1"/>
<line x1="133.16" y1="392.50" x2="133.16" y2="394.70" stroke="#8f8f87" stroke-width="1"/>
<line x1="138.41" y1="392.50" x2="138.41" y2="394.70" stroke="#8f8f87" stroke-width="1"/>
<line x1="141.33" y1="392.50" x2="141.33" y2="394.70" stroke="#8f8f87" stroke-width="1"/>
<line x1="144.24" y1="392.50" x2="144.24" y2="394.70" stroke="#8f8f87" stroke-width="1"/>
<line x1="147.16" y1="392.50" x2="147.16" y2="394.70" stroke="#8f8f87" stroke-width="1"/>
<line x1="153.41" y1="392.50" x2="153.41" y2="394.70" stroke="#8f8f87" stroke-width="1"/>
<line x1="156.33" y1="392.50" x2="156.33" y2="394.70" stroke="#8f8f87" stroke-width="1"/>
<line x1="159.24" y1="392.50" x2="159.24" y2="394.70" stroke="#8f8f87" stroke-width="1"/>
<line x1="162.16" y1="392.50" x2="162.16" y2="394.70" stroke="#8f8f87" stroke-width="1"/>
<line x1="167.41" y1="392.50" x2="167.41" y2="394.70" stroke="#8f8f87" stroke-width="1"/>
<line x1="170.33" y1="392.50" x2="170.33" y2="394.70" stroke="#8f8f87" stroke-width="1"/>
<line x1="173.24" y1="392.50" x2="173.24" y2="394.70" stroke="#8f8f87" stroke-width="1"/>
<line x1="176.16" y1="392.50" x2="176.16" y2="394.70" stroke="#8f8f87" stroke-width="1"/>
<line x1="182.41" y1="392.50" x2="182.41" y2="394.70" stroke="#8f8f87" stroke-width="1"/>
<line x1="185.33" y1="392.50" x2="185.33" y2="394.70" stroke="#8f8f87" stroke-width="1"/>
<line x1="188.24" y1="392.50" x2="188.24" y2="394.70" stroke="#8f8f87" stroke-width="1"/>
<line x1="191.16" y1="392.50" x2="191.16" y2="394.70" stroke="#8f8f87" stroke-width="1"/>
<line x1="197.41" y1="392.50" x2="197.41" y2="394.70" stroke="#8f8f87" stroke-width="1"/>
<line x1="200.33" y1="392.50" x2="200.33" y2="394.70" stroke="#8f8f87" stroke-width="1"/>
<line x1="203.24" y1="392.50" x2="203.24" y2="394.70" stroke="#8f8f87" stroke-width="1"/>
<line x1="206.16" y1="392.50" x2="206.16" y2="394.70" stroke="#8f8f87" stroke-width="1"/>
<line x1="211.41" y1="392.50" x2="211.41" y2="394.70" stroke="#8f8f87" stroke-width="1"/>
<line x1="214.33" y1="392.50" x2="214.33" y2="394.70" stroke="#8f8f87" stroke-width="1"/>
<line x1="217.24" y1="392.50" x2="217.24" y2="394.70" stroke="#8f8f87" stroke-width="1"/>
<line x1="220.16" y1="392.50" x2="220.16" y2="394.70" stroke="#8f8f87" stroke-width="1"/>
<line x1="226.41" y1="392.50" x2="226.41" y2="394.70" stroke="#8f8f87" stroke-width="1"/>
<line x1="229.33" y1="392.50" x2="229.33" y2="394.70" stroke="#8f8f87" stroke-width="1"/>
<line x1="232.24" y1="392.50" x2="232.24" y2="394.70" stroke="#8f8f87" stroke-width="1"/>
<line x1="235.16" y1="392.50" x2="235.16" y2="394.70" stroke="#8f8f87" stroke-width="1"/>
<line x1="240.41" y1="392.50" x2="240.41" y2="394.70" stroke="#8f8f87" stroke-width="1"/>
<line x1="243.33" y1="392.50" x2="243.33" y2="394.70" stroke="#8f8f87" stroke-width="1"/>
<line x1="246.24" y1="392.50" x2="246.24" y2="394.70" stroke="#8f8f87" stroke-width="1"/>
<line x1="249.16" y1="392.50" x2="249.16" y2="394.70" stroke="#8f8f87" stroke-width="1"/>
<line x1="255.41" y1="392.50" x2="255.41" y2="394.70" stroke="#8f8f87" stroke-width="1"/>
<line x1="258.33" y1="392.50" x2="258.33" y2="394.70" stroke="#8f8f87" stroke-width="1"/>
<line x1="261.24" y1="392.50" x2="261.24" y2="394.70" stroke="#8f8f87" stroke-width="1"/>
<line x1="264.16" y1="392.50" x2="264.16" y2="394.70" stroke="#8f8f87" stroke-width="1"/>
<line x1="269.41" y1="392.50" x2="269.41" y2="394.70" stroke="#8f8f87" stroke-width="1"/>
<line x1="272.33" y1="392.50" x2="272.33" y2="394.70" stroke="#8f8f87" stroke-width="1"/>
<line x1="275.24" y1="392.50" x2="275.24" y2="394.70" stroke="#8f8f87" stroke-width="1"/>
<line x1="278.16" y1="392.50" x2="278.16" y2="394.70" stroke="#8f8f87" stroke-width="1"/>
<line x1="284.41" y1="392.50" x2="284.41" y2="394.70" stroke="#8f8f87" stroke-width="1"/>
<line x1="287.33" y1="392.50" x2="287.33" y2="394.70" stroke="#8f8f87" stroke-width="1"/>
<line x1="290.24" y1="392.50" x2="290.24" y2="394.70" stroke="#8f8f87" stroke-width="1"/>
<line x1="293.16" y1="392.50" x2="293.16" y2="394.70" stroke="#8f8f87" stroke-width="1"/>
<line x1="299.41" y1="392.50" x2="299.41" y2="394.70" stroke="#8f8f87" stroke-width="1"/>
<line x1="302.33" y1="392.50" x2="302.33" y2="394.70" stroke="#8f8f87" stroke-width="1"/>
<line x1="305.24" y1="392.50" x2="305.24" y2="394.70" stroke="#8f8f87" stroke-width="1"/>
<line x1="308.16" y1="392.50" x2="308.16" y2="394.70" stroke="#8f8f87" stroke-width="1"/>
<line x1="313.41" y1="392.50" x2="313.41" y2="394.70" stroke="#8f8f87" stroke-width="1"/>
<line x1="316.33" y1="392.50" x2="316.33" y2="394.70" stroke="#8f8f87" stroke-width="1"/>
<line x1="319.24" y1="392.50" x2="319.24" y2="394.70" stroke="#8f8f87" stroke-width="1"/>
<line x1="322.16" y1="392.50" x2="322.16" y2="394.70" stroke="#8f8f87" stroke-width="1"/>
<line x1="328.41" y1="392.50" x2="328.41" y2="394.70" stroke="#8f8f87" stroke-width="1"/>
<line x1="331.33" y1="392.50" x2="331.33" y2="394.70" stroke="#8f8f87" stroke-width="1"/>
<line x1="334.24" y1="392.50" x2="334.24" y2="394.70" stroke="#8f8f87" stroke-width="1"/>
<line x1="337.16" y1="392.50" x2="337.16" y2="394.70" stroke="#8f8f87" stroke-width="1"/>
<line x1="342.41" y1="392.50" x2="342.41" y2="394.70" stroke="#8f8f87" stroke-width="1"/>
<line x1="345.33" y1="392.50" x2="345.33" y2="394.70" stroke="#8f8f87" stroke-width="1"/>
<line x1="348.24" y1="392.50" x2="348.24" y2="394.70" stroke="#8f8f87" stroke-width="1"/>
<line x1="351.16" y1="392.50" x2="351.16" y2="394.70" stroke="#8f8f87" stroke-width="1"/>
<line x1="357.41" y1="392.50" x2="357.41" y2="394.70" stroke="#8f8f87" stroke-width="1"/>
<line x1="360.33" y1="392.50" x2="360.33" y2="394.70" stroke="#8f8f87" stroke-width="1"/>
<line x1="363.24" y1="392.50" x2="363.24" y2="394.70" stroke="#8f8f87" stroke-width="1"/>
<line x1="366.16" y1="392.50" x2="366.16" y2="394.70" stroke="#8f8f87" stroke-width="1"/>
<line x1="371.41" y1="392.50" x2="371.41" y2="394.70" stroke="#8f8f87" stroke-width="1"/>
<line x1="374.33" y1="392.50" x2="374.33" y2="394.70" stroke="#8f8f87" stroke-width="1"/>
<line x1="377.24" y1="392.50" x2="377.24" y2="394.70" stroke="#8f8f87" stroke-width="1"/>
<line x1="380.16" y1="392.50" x2="380.16" y2="394.70" stroke="#8f8f87" stroke-width="1"/>
<line x1="386.41" y1="392.50" x2="386.41" y2="394.70" stroke="#8f8f87" stroke-width="1"/>
<line x1="389.33" y1="392.50" x2="389.33" y2="394.70" stroke="#8f8f87" stroke-width="1"/>
<line x1="392.24" y1="392.50" x2="392.24" y2="394.70" stroke="#8f8f87" stroke-width="1"/>
<line x1="395.16" y1="392.50" x2="395.16" y2="394.70" stroke="#8f8f87" stroke-width="1"/>
<line x1="400.41" y1="392.50" x2="400.41" y2="394.70" stroke="#8f8f87" stroke-width="1"/>
<line x1="403.33" y1="392.50" x2="403.33" y2="394.70" stroke="#8f8f87" stroke-width="1"/>
<line x1="406.24" y1="392.50" x2="406.24" y2="394.70" stroke="#8f8f87" stroke-width="1"/>
<line x1="409.16" y1="392.50" x2="409.16" y2="394.70" stroke="#8f8f87" stroke-width="1"/>
<line x1="415.41" y1="392.50" x2="415.41" y2="394.70" stroke="#8f8f87" stroke-width="1"/>
<line x1="418.33" y1="392.50" x2="418.33" y2="394.70" stroke="#8f8f87" stroke-width="1"/>
<line x1="421.24" y1="392.50" x2="421.24" y2="394.70" stroke="#8f8f87" stroke-width="1"/>
<line x1="424.16" y1="392.50" x2="424.16" y2="394.70" stroke="#8f8f87" stroke-width="1"/>
<line x1="430.41" y1="392.50" x2="430.41" y2="394.70" stroke="#8f8f87" stroke-width="1"/>
<line x1="433.33" y1="392.50" x2="433.33" y2="394.70" stroke="#8f8f87" stroke-width="1"/>
<line x1="436.24" y1="392.50" x2="436.24" y2="394.70" stroke="#8f8f87" stroke-width="1"/>
<line x1="439.16" y1="392.50" x2="439.16" y2="394.70" stroke="#8f8f87" stroke-width="1"/>
<line x1="444.41" y1="392.50" x2="444.41" y2="394.70" stroke="#8f8f87" stroke-width="1"/>
<line x1="447.33" y1="392.50" x2="447.33" y2="394.70" stroke="#8f8f87" stroke-width="1"/>
<line x1="450.24" y1="392.50" x2="450.24" y2="394.70" stroke="#8f8f87" stroke-width="1"/>
<line x1="453.16" y1="392.50" x2="453.16" y2="394.70" stroke="#8f8f87" stroke-width="1"/>
<line x1="459.41" y1="392.50" x2="459.41" y2="394.70" stroke="#8f8f87" stroke-width="1"/>
<line x1="462.33" y1="392.50" x2="462.33" y2="394.70" stroke="#8f8f87" stroke-width="1"/>
<line x1="465.24" y1="392.50" x2="465.24" y2="394.70" stroke="#8f8f87" stroke-width="1"/>
<line x1="468.16" y1="392.50" x2="468.16" y2="394.70" stroke="#8f8f87" stroke-width="1"/>
<line x1="473.41" y1="392.50" x2="473.41" y2="394.70" stroke="#8f8f87" stroke-width="1"/>
<line x1="476.33" y1="392.50" x2="476.33" y2="394.70" stroke="#8f8f87" stroke-width="1"/>
<line x1="479.24" y1="392.50" x2="479.24" y2="394.70" stroke="#8f8f87" stroke-width="1"/>
<line x1="482.16" y1="392.50" x2="482.16" y2="394.70" stroke="#8f8f87" stroke-width="1"/>
<line x1="488.41" y1="392.50" x2="488.41" y2="394.70" stroke="#8f8f87" stroke-width="1"/>
<line x1="491.33" y1="392.50" x2="491.33" y2="394.70" stroke="#8f8f87" stroke-width="1"/>
<line x1="494.24" y1="392.50" x2="494.24" y2="394.70" stroke="#8f8f87" stroke-width="1"/>
<line x1="497.16" y1="392.50" x2="497.16" y2="394.70" stroke="#8f8f87" stroke-width="1"/>
<line x1="502.41" y1="392.50" x2="502.41" y2="394.70" stroke="#8f8f87" stroke-width="1"/>
<line x1="505.33" y1="392.50" x2="505.33" y2="394.70" stroke="#8f8f87" stroke-width="1"/>
<line x1="508.24" y1="392.50" x2="508.24" y2="394.70" stroke="#8f8f87" stroke-width="1"/>
<line x1="511.16" y1="392.50" x2="511.16" y2="394.70" stroke="#8f8f87" stroke-width="1"/>
<line x1="517.41" y1="392.50" x2="517.41" y2="394.70" stroke="#8f8f87" stroke-width="1"/>
<line x1="520.33" y1="392.50" x2="520.33" y2="394.70" stroke="#8f8f87" stroke-width="1"/>
<line x1="523.24" y1="392.50" x2="523.24" y2="394.70" stroke="#8f8f87" stroke-width="1"/>
<line x1="526.16" y1="392.50" x2="526.16" y2="394.70" stroke="#8f8f87" stroke-width="1"/>
<line x1="531.41" y1="392.50" x2="531.41" y2="394.70" stroke="#8f8f87" stroke-width="1"/>
<line x1="534.33" y1="392.50" x2="534.33" y2="394.70" stroke="#8f8f87" stroke-width="1"/>
<line x1="537.24" y1="392.50" x2="537.24" y2="394.70" stroke="#8f8f87" stroke-width="1"/>
<line x1="540.16" y1="392.50" x2="540.16" y2="394.70" stroke="#8f8f87" stroke-width="1"/>
<line x1="546.41" y1="392.50" x2="546.41" y2="394.70" stroke="#8f8f87" stroke-width="1"/>
<line x1="549.33" y1="392.50" x2="549.33" y2="394.70" stroke="#8f8f87" stroke-width="1"/>
<line x1="552.24" y1="392.50" x2="552.24" y2="394.70" stroke="#8f8f87" stroke-width="1"/>
<line x1="555.16" y1="392.50" x2="555.16" y2="394.70" stroke="#8f8f87" stroke-width="1"/>
<line x1="561.41" y1="392.50" x2="561.41" y2="394.70" stroke="#8f8f87" stroke-width="1"/>
<line x1="564.33" y1="392.50" x2="564.33" y2="394.70" stroke="#8f8f87" stroke-width="1"/>
<line x1="567.24" y1="392.50" x2="567.24" y2="394.70" stroke="#8f8f87" stroke-width="1"/>
<line x1="570.16" y1="392.50" x2="570.16" y2="394.70" stroke="#8f8f87" stroke-width="1"/>
<line x1="575.41" y1="392.50" x2="575.41" y2="394.70" stroke="#8f8f87" stroke-width="1"/>
<line x1="578.33" y1="392.50" x2="578.33" y2="394.70" stroke="#8f8f87" stroke-width="1"/>
<line x1="581.24" y1="392.50" x2="581.24" y2="394.70" stroke="#8f8f87" stroke-width="1"/>
<line x1="584.16" y1="392.50" x2="584.16" y2="394.70" stroke="#8f8f87" stroke-width="1"/>
<line x1="590.41" y1="392.50" x2="590.41" y2="394.70" stroke="#8f8f87" stroke-width="1"/>
<line x1="593.33" y1="392.50" x2="593.33" y2="394.70" stroke="#8f8f87" stroke-width="1"/>
<line x1="596.24" y1="392.50" x2="596.24" y2="394.70" stroke="#8f8f87" stroke-width="1"/>
<line x1="599.16" y1="392.50" x2="599.16" y2="394.70" stroke="#8f8f87" stroke-width="1"/>
<line x1="604.41" y1="392.50" x2="604.41" y2="394.70" stroke="#8f8f87" stroke-width="1"/>
<line x1="607.33" y1="392.50" x2="607.33" y2="394.70" stroke="#8f8f87" stroke-width="1"/>
<line x1="610.24" y1="392.50" x2="610.24" y2="394.70" stroke="#8f8f87" stroke-width="1"/>
<line x1="613.16" y1="392.50" x2="613.16" y2="394.70" stroke="#8f8f87" stroke-width="1"/>
<line x1="619.41" y1="392.50" x2="619.41" y2="394.70" stroke="#8f8f87" stroke-width="1"/>
<line x1="622.33" y1="392.50" x2="622.33" y2="394.70" stroke="#8f8f87" stroke-width="1"/>
<line x1="625.24" y1="392.50" x2="625.24" y2="394.70" stroke="#8f8f87" stroke-width="1"/>
<line x1="628.16" y1="392.50" x2="628.16" y2="394.70" stroke="#8f8f87" stroke-width="1"/>
<line x1="633.41" y1="392.50" x2="633.41" y2="394.70" stroke="#8f8f87" stroke-width="1"/>
<line x1="636.33" y1="392.50" x2="636.33" y2="394.70" stroke="#8f8f87" stroke-width="1"/>
<line x1="639.24" y1="392.50" x2="639.24" y2="394.70" stroke="#8f8f87" stroke-width="1"/>
<line x1="642.16" y1="392.50" x2="642.16" y2="394.70" stroke="#8f8f87" stroke-width="1"/>
<line x1="648.41" y1="392.50" x2="648.41" y2="394.70" stroke="#8f8f87" stroke-width="1"/>
<line x1="651.33" y1="392.50" x2="651.33" y2="394.70" stroke="#8f8f87" stroke-width="1"/>
<line x1="654.24" y1="392.50" x2="654.24" y2="394.70" stroke="#8f8f87" stroke-width="1"/>
<line x1="657.16" y1="392.50" x2="657.16" y2="394.70" stroke="#8f8f87" stroke-width="1"/>
<line x1="663.41" y1="392.50" x2="663.41" y2="394.70" stroke="#8f8f87" stroke-width="1"/>
<line x1="666.33" y1="392.50" x2="666.33" y2="394.70" stroke="#8f8f87" stroke-width="1"/>
<line x1="669.24" y1="392.50" x2="669.24" y2="394.70" stroke="#8f8f87" stroke-width="1"/>
<line x1="672.16" y1="392.50" x2="672.16" y2="394.70" stroke="#8f8f87" stroke-width="1"/>
<line x1="677.41" y1="392.50" x2="677.41" y2="394.70" stroke="#8f8f87" stroke-width="1"/>
<line x1="680.33" y1="392.50" x2="680.33" y2="394.70" stroke="#8f8f87" stroke-width="1"/>
<line x1="683.24" y1="392.50" x2="683.24" y2="394.70" stroke="#8f8f87" stroke-width="1"/>
<line x1="686.16" y1="392.50" x2="686.16" y2="394.70" stroke="#8f8f87" stroke-width="1"/>
<line x1="692.41" y1="392.50" x2="692.41" y2="394.70" stroke="#8f8f87" stroke-width="1"/>
<line x1="695.33" y1="392.50" x2="695.33" y2="394.70" stroke="#8f8f87" stroke-width="1"/>
<line x1="698.24" y1="392.50" x2="698.24" y2="394.70" stroke="#8f8f87" stroke-width="1"/>
<line x1="701.16" y1="392.50" x2="701.16" y2="394.70" stroke="#8f8f87" stroke-width="1"/>
<line x1="48.50" y1="392.50" x2="48.50" y2="396.10" stroke="#3c3c38" stroke-width="1"/>
<line x1="63.50" y1="392.50" x2="63.50" y2="396.10" stroke="#3c3c38" stroke-width="1"/>
<line x1="77.50" y1="392.50" x2="77.50" y2="396.10" stroke="#3c3c38" stroke-width="1"/>
<line x1="92.50" y1="392.50" x2="92.50" y2="396.10" stroke="#3c3c38" stroke-width="1"/>
<line x1="106.50" y1="392.50" x2="106.50" y2="396.10" stroke="#3c3c38" stroke-width="1"/>
<line x1="121.50" y1="392.50" x2="121.50" y2="396.10" stroke="#3c3c38" stroke-width="1"/>
<line x1="135.50" y1="392.50" x2="135.50" y2="396.10" stroke="#3c3c38" stroke-width="1"/>
<line x1="150.50" y1="392.50" x2="150.50" y2="396.10" stroke="#3c3c38" stroke-width="1"/>
<line x1="164.50" y1="392.50" x2="164.50" y2="396.10" stroke="#3c3c38" stroke-width="1"/>
<line x1="179.50" y1="392.50" x2="179.50" y2="396.10" stroke="#3c3c38" stroke-width="1"/>
<line x1="194.50" y1="392.50" x2="194.50" y2="396.10" stroke="#3c3c38" stroke-width="1"/>
<line x1="208.50" y1="392.50" x2="208.50" y2="396.10" stroke="#3c3c38" stroke-width="1"/>
<line x1="223.50" y1="392.50" x2="223.50" y2="396.10" stroke="#3c3c38" stroke-width="1"/>
<line x1="237.50" y1="392.50" x2="237.50" y2="396.10" stroke="#3c3c38" stroke-width="1"/>
<line x1="252.50" y1="392.50" x2="252.50" y2="396.10" stroke="#3c3c38" stroke-width="1"/>
<line x1="266.50" y1="392.50" x2="266.50" y2="396.10" stroke="#3c3c38" stroke-width="1"/>
<line x1="281.50" y1="392.50" x2="281.50" y2="396.10" stroke="#3c3c38" stroke-width="1"/>
<line x1="296.50" y1="392.50" x2="296.50" y2="396.10" stroke="#3c3c38" stroke-width="1"/>
<line x1="310.50" y1="392.50" x2="310.50" y2="396.10" stroke="#3c3c38" stroke-width="1"/>
<line x1="325.50" y1="392.50" x2="325.50" y2="396.10" stroke="#3c3c38" stroke-width="1"/>
<line x1="339.50" y1="392.50" x2="339.50" y2="396.10" stroke="#3c3c38" stroke-width="1"/>
<line x1="354.50" y1="392.50" x2="354.50" y2="396.10" stroke="#3c3c38" stroke-width="1"/>
<line x1="368.50" y1="392.50" x2="368.50" y2="396.10" stroke="#3c3c38" stroke-width="1"/>
<line x1="383.50" y1="392.50" x2="383.50" y2="396.10" stroke="#3c3c38" stroke-width="1"/>
<line x1="397.50" y1="392.50" x2="397.50" y2="396.10" stroke="#3c3c38" stroke-width="1"/>
<line x1="412.50" y1="392.50" x2="412.50" y2="396.10" stroke="#3c3c38" stroke-width="1"/>
<line x1="427.50" y1="392.50" x2="427.50" y2="396.10" stroke="#3c3c38" stroke-width="1"/>
<line x1="441.50" y1="392.50" x2="441.50" y2="396.10" stroke="#3c3c38" stroke-width="1"/>
<line x1="456.50" y1="392.50" x2="456.50" y2="396.10" stroke="#3c3c38" stroke-width="1"/>
<line x1="470.50" y1="392.50" x2="470.50" y2="396.10" stroke="#3c3c38" stroke-width="1"/>
<line x1="485.50" y1="392.50" x2="485.50" y2="396.10" stroke="#3c3c38" stroke-width="1"/>
<line x1="499.50" y1="392.50" x2="499.50" y2="396.10" stroke="#3c3c38" stroke-width="1"/>
<line x1="514.50" y1="392.50" x2="514.50" y2="396.10" stroke="#3c3c38" stroke-width="1"/>
<line x1="528.50" y1="392.50" x2="528.50" y2="396.10" stroke="#3c3c38" stroke-width="1"/>
<line x1="543.50" y1="392.50" x2="543.50" y2="396.10" stroke="#3c3c38" stroke-width="1"/>
<line x1="558.50" y1="392.50" x2="558.50" y2="396.10" stroke="#3c3c38" stroke-width="1"/>
<line x1="572.50" y1="392.50" x2="572.50" y2="396.10" stroke="#3c3c38" stroke-width="1"/>
<line x1="587.50" y1="392.50" x2="587.50" y2="396.10" stroke="#3c3c38" stroke-width="1"/>
<line x1="601.50" y1="392.50" x2="601.50" y2="396.10" stroke="#3c3c38" stroke-width="1"/>
<line x1="616.50" y1="392.50" x2="616.50" y2="396.10" stroke="#3c3c38" stroke-width="1"/>
<line x1="630.50" y1="392.50" x2="630.50" y2="396.10" stroke="#3c3c38" stroke-width="1"/>
<line x1="645.50" y1="392.50" x2="645.50" y2="396.10" stroke="#3c3c38" stroke-width="1"/>
<line x1="660.50" y1="392.50" x2="660.50" y2="396.10" stroke="#3c3c38" stroke-width="1"/>
<line x1="674.50" y1="392.50" x2="674.50" y2="396.10" stroke="#3c3c38" stroke-width="1"/>
<line x1="689.50" y1="392.50" x2="689.50" y2="396.10" stroke="#3c3c38" stroke-width="1"/>
<line x1="703.50" y1="392.50" x2="703.50" y2="396.10" stroke="#3c3c38" stroke-width="1"/>
<rect x="33.1" y="293.70" width="2" height="98.80" fill="#000"/>
<rect x="33.1" y="390.70" width="671.00" height="1.85" fill="#000"/>
<line x1="30.00" y1="295.40" x2="33.30" y2="295.40" stroke="#222" stroke-width="1"/>
<line x1="32.00" y1="305.70" x2="33.30" y2="305.70" stroke="#66665f" stroke-width="1"/>
<text x="28.0" y="298.80" text-anchor="end" textLength="12.0" lengthAdjust="spacing" class="yl">90</text>
<line x1="30.00" y1="316.00" x2="33.30" y2="316.00" stroke="#222" stroke-width="1"/>
<line x1="32.00" y1="326.20" x2="33.30" y2="326.20" stroke="#66665f" stroke-width="1"/>
<text x="28.0" y="319.40" text-anchor="end" textLength="12.0" lengthAdjust="spacing" class="yl">80</text>
<line x1="30.00" y1="336.40" x2="33.30" y2="336.40" stroke="#222" stroke-width="1"/>
<line x1="32.00" y1="346.60" x2="33.30" y2="346.60" stroke="#66665f" stroke-width="1"/>
<text x="28.0" y="339.80" text-anchor="end" textLength="12.0" lengthAdjust="spacing" class="yl">70</text>
<line x1="30.00" y1="356.80" x2="33.30" y2="356.80" stroke="#222" stroke-width="1"/>
<line x1="32.00" y1="367.00" x2="33.30" y2="367.00" stroke="#66665f" stroke-width="1"/>
<text x="28.0" y="360.20" text-anchor="end" textLength="12.0" lengthAdjust="spacing" class="yl">60</text>
<line x1="30.00" y1="377.20" x2="33.30" y2="377.20" stroke="#222" stroke-width="1"/>
<text x="28.0" y="380.60" text-anchor="end" textLength="12.0" lengthAdjust="spacing" class="yl">50</text>
<text x="307.6" y="285.9" textLength="71.7" lengthAdjust="spacingAndGlyphs" class="pt">Rel. Feuchte (%)</text>
<clipPath id="c3"><rect x="33.8" y="422.1" width="670.3000000000001" height="96.5"/></clipPath>
<line x1="48.50" y1="423.10" x2="48.50" y2="517.60" stroke="#6e6e67" stroke-width="1" stroke-dasharray="3 2"/>
<line x1="63.50" y1="423.10" x2="63.50" y2="517.60" stroke="#6e6e67" stroke-width="1" stroke-dasharray="3 2"/>
<line x1="77.50" y1="423.10" x2="77.50" y2="517.60" stroke="#6e6e67" stroke-width="1" stroke-dasharray="3 2"/>
<line x1="92.50" y1="423.10" x2="92.50" y2="517.60" stroke="#6e6e67" stroke-width="1" stroke-dasharray="3 2"/>
<line x1="106.50" y1="423.10" x2="106.50" y2="517.60" stroke="#6e6e67" stroke-width="1" stroke-dasharray="3 2"/>
<line x1="121.50" y1="423.10" x2="121.50" y2="517.60" stroke="#6e6e67" stroke-width="1" stroke-dasharray="3 2"/>
<line x1="135.50" y1="423.10" x2="135.50" y2="517.60" stroke="#6e6e67" stroke-width="1" stroke-dasharray="3 2"/>
<line x1="150.50" y1="423.10" x2="150.50" y2="517.60" stroke="#6e6e67" stroke-width="1" stroke-dasharray="3 2"/>
<line x1="164.50" y1="423.10" x2="164.50" y2="517.60" stroke="#6e6e67" stroke-width="1" stroke-dasharray="3 2"/>
<line x1="179.50" y1="423.10" x2="179.50" y2="517.60" stroke="#6e6e67" stroke-width="1" stroke-dasharray="3 2"/>
<line x1="194.50" y1="423.10" x2="194.50" y2="517.60" stroke="#6e6e67" stroke-width="1" stroke-dasharray="3 2"/>
<line x1="208.50" y1="423.10" x2="208.50" y2="517.60" stroke="#6e6e67" stroke-width="1" stroke-dasharray="3 2"/>
<line x1="223.50" y1="423.10" x2="223.50" y2="517.60" stroke="#6e6e67" stroke-width="1" stroke-dasharray="3 2"/>
<line x1="237.50" y1="423.10" x2="237.50" y2="517.60" stroke="#6e6e67" stroke-width="1" stroke-dasharray="3 2"/>
<line x1="252.50" y1="423.10" x2="252.50" y2="517.60" stroke="#6e6e67" stroke-width="1" stroke-dasharray="3 2"/>
<line x1="266.50" y1="423.10" x2="266.50" y2="517.60" stroke="#6e6e67" stroke-width="1" stroke-dasharray="3 2"/>
<line x1="281.50" y1="423.10" x2="281.50" y2="517.60" stroke="#6e6e67" stroke-width="1" stroke-dasharray="3 2"/>
<line x1="296.50" y1="423.10" x2="296.50" y2="517.60" stroke="#6e6e67" stroke-width="1" stroke-dasharray="3 2"/>
<line x1="310.50" y1="423.10" x2="310.50" y2="517.60" stroke="#6e6e67" stroke-width="1" stroke-dasharray="3 2"/>
<line x1="325.50" y1="423.10" x2="325.50" y2="517.60" stroke="#6e6e67" stroke-width="1" stroke-dasharray="3 2"/>
<line x1="339.50" y1="423.10" x2="339.50" y2="517.60" stroke="#6e6e67" stroke-width="1" stroke-dasharray="3 2"/>
<line x1="354.50" y1="423.10" x2="354.50" y2="517.60" stroke="#6e6e67" stroke-width="1" stroke-dasharray="3 2"/>
<line x1="368.50" y1="423.10" x2="368.50" y2="517.60" stroke="#6e6e67" stroke-width="1" stroke-dasharray="3 2"/>
<line x1="383.50" y1="423.10" x2="383.50" y2="517.60" stroke="#6e6e67" stroke-width="1" stroke-dasharray="3 2"/>
<line x1="397.50" y1="423.10" x2="397.50" y2="517.60" stroke="#6e6e67" stroke-width="1" stroke-dasharray="3 2"/>
<line x1="412.50" y1="423.10" x2="412.50" y2="517.60" stroke="#6e6e67" stroke-width="1" stroke-dasharray="3 2"/>
<line x1="427.50" y1="423.10" x2="427.50" y2="517.60" stroke="#6e6e67" stroke-width="1" stroke-dasharray="3 2"/>
<line x1="441.50" y1="423.10" x2="441.50" y2="517.60" stroke="#6e6e67" stroke-width="1" stroke-dasharray="3 2"/>
<line x1="456.50" y1="423.10" x2="456.50" y2="517.60" stroke="#6e6e67" stroke-width="1" stroke-dasharray="3 2"/>
<line x1="470.50" y1="423.10" x2="470.50" y2="517.60" stroke="#6e6e67" stroke-width="1" stroke-dasharray="3 2"/>
<line x1="485.50" y1="423.10" x2="485.50" y2="517.60" stroke="#6e6e67" stroke-width="1" stroke-dasharray="3 2"/>
<line x1="499.50" y1="423.10" x2="499.50" y2="517.60" stroke="#6e6e67" stroke-width="1" stroke-dasharray="3 2"/>
<line x1="514.50" y1="423.10" x2="514.50" y2="517.60" stroke="#6e6e67" stroke-width="1" stroke-dasharray="3 2"/>
<line x1="528.50" y1="423.10" x2="528.50" y2="517.60" stroke="#6e6e67" stroke-width="1" stroke-dasharray="3 2"/>
<line x1="543.50" y1="423.10" x2="543.50" y2="517.60" stroke="#6e6e67" stroke-width="1" stroke-dasharray="3 2"/>
<line x1="558.50" y1="423.10" x2="558.50" y2="517.60" stroke="#6e6e67" stroke-width="1" stroke-dasharray="3 2"/>
<line x1="572.50" y1="423.10" x2="572.50" y2="517.60" stroke="#6e6e67" stroke-width="1" stroke-dasharray="3 2"/>
<line x1="587.50" y1="423.10" x2="587.50" y2="517.60" stroke="#6e6e67" stroke-width="1" stroke-dasharray="3 2"/>
<line x1="601.50" y1="423.10" x2="601.50" y2="517.60" stroke="#6e6e67" stroke-width="1" stroke-dasharray="3 2"/>
<line x1="616.50" y1="423.10" x2="616.50" y2="517.60" stroke="#6e6e67" stroke-width="1" stroke-dasharray="3 2"/>
<line x1="630.50" y1="423.10" x2="630.50" y2="517.60" stroke="#6e6e67" stroke-width="1" stroke-dasharray="3 2"/>
<line x1="645.50" y1="423.10" x2="645.50" y2="517.60" stroke="#6e6e67" stroke-width="1" stroke-dasharray="3 2"/>
<line x1="660.50" y1="423.10" x2="660.50" y2="517.60" stroke="#6e6e67" stroke-width="1" stroke-dasharray="3 2"/>
<line x1="674.50" y1="423.10" x2="674.50" y2="517.60" stroke="#6e6e67" stroke-width="1" stroke-dasharray="3 2"/>
<line x1="689.50" y1="423.10" x2="689.50" y2="517.60" stroke="#6e6e67" stroke-width="1" stroke-dasharray="3 2"/>
<line x1="34.80" y1="427.30" x2="703.60" y2="427.30" stroke="#92928a" stroke-width="1" stroke-dasharray="3 2"/>
<line x1="34.80" y1="442.05" x2="703.60" y2="442.05" stroke="#92928a" stroke-width="1" stroke-dasharray="3 2"/>
<line x1="34.80" y1="456.80" x2="703.60" y2="456.80" stroke="#92928a" stroke-width="1" stroke-dasharray="3 2"/>
<line x1="34.80" y1="471.55" x2="703.60" y2="471.55" stroke="#92928a" stroke-width="1" stroke-dasharray="3 2"/>
<line x1="34.80" y1="486.30" x2="703.60" y2="486.30" stroke="#92928a" stroke-width="1" stroke-dasharray="3 2"/>
<line x1="34.80" y1="501.05" x2="703.60" y2="501.05" stroke="#92928a" stroke-width="1" stroke-dasharray="3 2"/>
<line x1="34.80" y1="515.80" x2="703.60" y2="515.80" stroke="#92928a" stroke-width="1" stroke-dasharray="3 2"/>
<rect x="33.80" y="422.05" width="670.30" height="1.1" fill="#1c1c1c"/>
<line x1="703.60" y1="422.10" x2="703.60" y2="519.60" stroke="#111" stroke-width="1.1"/>
<polyline clip-path="url(#c3)" points="252.50,517.60 266.50,516.30 281.50,510.50 296.50,499.30 310.50,485.70 325.50,469.50 339.50,465.80 354.50,449.70 368.50,443.50 383.50,437.80 397.50,424.40 412.50,429.40 427.50,426.20 441.50,430.40 456.50,443.50 470.50,459.60 485.50,473.30 499.50,486.90 514.50,504.30 528.50,515.40 543.50,517.60" fill="none" stroke="#fafa78" stroke-width="1.1" stroke-linejoin="round"/>
<line x1="36.41" y1="519.60" x2="36.41" y2="521.80" stroke="#8f8f87" stroke-width="1"/>
<line x1="39.33" y1="519.60" x2="39.33" y2="521.80" stroke="#8f8f87" stroke-width="1"/>
<line x1="42.24" y1="519.60" x2="42.24" y2="521.80" stroke="#8f8f87" stroke-width="1"/>
<line x1="45.16" y1="519.60" x2="45.16" y2="521.80" stroke="#8f8f87" stroke-width="1"/>
<line x1="51.41" y1="519.60" x2="51.41" y2="521.80" stroke="#8f8f87" stroke-width="1"/>
<line x1="54.33" y1="519.60" x2="54.33" y2="521.80" stroke="#8f8f87" stroke-width="1"/>
<line x1="57.24" y1="519.60" x2="57.24" y2="521.80" stroke="#8f8f87" stroke-width="1"/>
<line x1="60.16" y1="519.60" x2="60.16" y2="521.80" stroke="#8f8f87" stroke-width="1"/>
<line x1="66.41" y1="519.60" x2="66.41" y2="521.80" stroke="#8f8f87" stroke-width="1"/>
<line x1="69.33" y1="519.60" x2="69.33" y2="521.80" stroke="#8f8f87" stroke-width="1"/>
<line x1="72.24" y1="519.60" x2="72.24" y2="521.80" stroke="#8f8f87" stroke-width="1"/>
<line x1="75.16" y1="519.60" x2="75.16" y2="521.80" stroke="#8f8f87" stroke-width="1"/>
<line x1="80.41" y1="519.60" x2="80.41" y2="521.80" stroke="#8f8f87" stroke-width="1"/>
<line x1="83.33" y1="519.60" x2="83.33" y2="521.80" stroke="#8f8f87" stroke-width="1"/>
<line x1="86.24" y1="519.60" x2="86.24" y2="521.80" stroke="#8f8f87" stroke-width="1"/>
<line x1="89.16" y1="519.60" x2="89.16" y2="521.80" stroke="#8f8f87" stroke-width="1"/>
<line x1="95.41" y1="519.60" x2="95.41" y2="521.80" stroke="#8f8f87" stroke-width="1"/>
<line x1="98.33" y1="519.60" x2="98.33" y2="521.80" stroke="#8f8f87" stroke-width="1"/>
<line x1="101.24" y1="519.60" x2="101.24" y2="521.80" stroke="#8f8f87" stroke-width="1"/>
<line x1="104.16" y1="519.60" x2="104.16" y2="521.80" stroke="#8f8f87" stroke-width="1"/>
<line x1="109.41" y1="519.60" x2="109.41" y2="521.80" stroke="#8f8f87" stroke-width="1"/>
<line x1="112.33" y1="519.60" x2="112.33" y2="521.80" stroke="#8f8f87" stroke-width="1"/>
<line x1="115.24" y1="519.60" x2="115.24" y2="521.80" stroke="#8f8f87" stroke-width="1"/>
<line x1="118.16" y1="519.60" x2="118.16" y2="521.80" stroke="#8f8f87" stroke-width="1"/>
<line x1="124.41" y1="519.60" x2="124.41" y2="521.80" stroke="#8f8f87" stroke-width="1"/>
<line x1="127.33" y1="519.60" x2="127.33" y2="521.80" stroke="#8f8f87" stroke-width="1"/>
<line x1="130.24" y1="519.60" x2="130.24" y2="521.80" stroke="#8f8f87" stroke-width="1"/>
<line x1="133.16" y1="519.60" x2="133.16" y2="521.80" stroke="#8f8f87" stroke-width="1"/>
<line x1="138.41" y1="519.60" x2="138.41" y2="521.80" stroke="#8f8f87" stroke-width="1"/>
<line x1="141.33" y1="519.60" x2="141.33" y2="521.80" stroke="#8f8f87" stroke-width="1"/>
<line x1="144.24" y1="519.60" x2="144.24" y2="521.80" stroke="#8f8f87" stroke-width="1"/>
<line x1="147.16" y1="519.60" x2="147.16" y2="521.80" stroke="#8f8f87" stroke-width="1"/>
<line x1="153.41" y1="519.60" x2="153.41" y2="521.80" stroke="#8f8f87" stroke-width="1"/>
<line x1="156.33" y1="519.60" x2="156.33" y2="521.80" stroke="#8f8f87" stroke-width="1"/>
<line x1="159.24" y1="519.60" x2="159.24" y2="521.80" stroke="#8f8f87" stroke-width="1"/>
<line x1="162.16" y1="519.60" x2="162.16" y2="521.80" stroke="#8f8f87" stroke-width="1"/>
<line x1="167.41" y1="519.60" x2="167.41" y2="521.80" stroke="#8f8f87" stroke-width="1"/>
<line x1="170.33" y1="519.60" x2="170.33" y2="521.80" stroke="#8f8f87" stroke-width="1"/>
<line x1="173.24" y1="519.60" x2="173.24" y2="521.80" stroke="#8f8f87" stroke-width="1"/>
<line x1="176.16" y1="519.60" x2="176.16" y2="521.80" stroke="#8f8f87" stroke-width="1"/>
<line x1="182.41" y1="519.60" x2="182.41" y2="521.80" stroke="#8f8f87" stroke-width="1"/>
<line x1="185.33" y1="519.60" x2="185.33" y2="521.80" stroke="#8f8f87" stroke-width="1"/>
<line x1="188.24" y1="519.60" x2="188.24" y2="521.80" stroke="#8f8f87" stroke-width="1"/>
<line x1="191.16" y1="519.60" x2="191.16" y2="521.80" stroke="#8f8f87" stroke-width="1"/>
<line x1="197.41" y1="519.60" x2="197.41" y2="521.80" stroke="#8f8f87" stroke-width="1"/>
<line x1="200.33" y1="519.60" x2="200.33" y2="521.80" stroke="#8f8f87" stroke-width="1"/>
<line x1="203.24" y1="519.60" x2="203.24" y2="521.80" stroke="#8f8f87" stroke-width="1"/>
<line x1="206.16" y1="519.60" x2="206.16" y2="521.80" stroke="#8f8f87" stroke-width="1"/>
<line x1="211.41" y1="519.60" x2="211.41" y2="521.80" stroke="#8f8f87" stroke-width="1"/>
<line x1="214.33" y1="519.60" x2="214.33" y2="521.80" stroke="#8f8f87" stroke-width="1"/>
<line x1="217.24" y1="519.60" x2="217.24" y2="521.80" stroke="#8f8f87" stroke-width="1"/>
<line x1="220.16" y1="519.60" x2="220.16" y2="521.80" stroke="#8f8f87" stroke-width="1"/>
<line x1="226.41" y1="519.60" x2="226.41" y2="521.80" stroke="#8f8f87" stroke-width="1"/>
<line x1="229.33" y1="519.60" x2="229.33" y2="521.80" stroke="#8f8f87" stroke-width="1"/>
<line x1="232.24" y1="519.60" x2="232.24" y2="521.80" stroke="#8f8f87" stroke-width="1"/>
<line x1="235.16" y1="519.60" x2="235.16" y2="521.80" stroke="#8f8f87" stroke-width="1"/>
<line x1="240.41" y1="519.60" x2="240.41" y2="521.80" stroke="#8f8f87" stroke-width="1"/>
<line x1="243.33" y1="519.60" x2="243.33" y2="521.80" stroke="#8f8f87" stroke-width="1"/>
<line x1="246.24" y1="519.60" x2="246.24" y2="521.80" stroke="#8f8f87" stroke-width="1"/>
<line x1="249.16" y1="519.60" x2="249.16" y2="521.80" stroke="#8f8f87" stroke-width="1"/>
<line x1="255.41" y1="519.60" x2="255.41" y2="521.80" stroke="#8f8f87" stroke-width="1"/>
<line x1="258.33" y1="519.60" x2="258.33" y2="521.80" stroke="#8f8f87" stroke-width="1"/>
<line x1="261.24" y1="519.60" x2="261.24" y2="521.80" stroke="#8f8f87" stroke-width="1"/>
<line x1="264.16" y1="519.60" x2="264.16" y2="521.80" stroke="#8f8f87" stroke-width="1"/>
<line x1="269.41" y1="519.60" x2="269.41" y2="521.80" stroke="#8f8f87" stroke-width="1"/>
<line x1="272.33" y1="519.60" x2="272.33" y2="521.80" stroke="#8f8f87" stroke-width="1"/>
<line x1="275.24" y1="519.60" x2="275.24" y2="521.80" stroke="#8f8f87" stroke-width="1"/>
<line x1="278.16" y1="519.60" x2="278.16" y2="521.80" stroke="#8f8f87" stroke-width="1"/>
<line x1="284.41" y1="519.60" x2="284.41" y2="521.80" stroke="#8f8f87" stroke-width="1"/>
<line x1="287.33" y1="519.60" x2="287.33" y2="521.80" stroke="#8f8f87" stroke-width="1"/>
<line x1="290.24" y1="519.60" x2="290.24" y2="521.80" stroke="#8f8f87" stroke-width="1"/>
<line x1="293.16" y1="519.60" x2="293.16" y2="521.80" stroke="#8f8f87" stroke-width="1"/>
<line x1="299.41" y1="519.60" x2="299.41" y2="521.80" stroke="#8f8f87" stroke-width="1"/>
<line x1="302.33" y1="519.60" x2="302.33" y2="521.80" stroke="#8f8f87" stroke-width="1"/>
<line x1="305.24" y1="519.60" x2="305.24" y2="521.80" stroke="#8f8f87" stroke-width="1"/>
<line x1="308.16" y1="519.60" x2="308.16" y2="521.80" stroke="#8f8f87" stroke-width="1"/>
<line x1="313.41" y1="519.60" x2="313.41" y2="521.80" stroke="#8f8f87" stroke-width="1"/>
<line x1="316.33" y1="519.60" x2="316.33" y2="521.80" stroke="#8f8f87" stroke-width="1"/>
<line x1="319.24" y1="519.60" x2="319.24" y2="521.80" stroke="#8f8f87" stroke-width="1"/>
<line x1="322.16" y1="519.60" x2="322.16" y2="521.80" stroke="#8f8f87" stroke-width="1"/>
<line x1="328.41" y1="519.60" x2="328.41" y2="521.80" stroke="#8f8f87" stroke-width="1"/>
<line x1="331.33" y1="519.60" x2="331.33" y2="521.80" stroke="#8f8f87" stroke-width="1"/>
<line x1="334.24" y1="519.60" x2="334.24" y2="521.80" stroke="#8f8f87" stroke-width="1"/>
<line x1="337.16" y1="519.60" x2="337.16" y2="521.80" stroke="#8f8f87" stroke-width="1"/>
<line x1="342.41" y1="519.60" x2="342.41" y2="521.80" stroke="#8f8f87" stroke-width="1"/>
<line x1="345.33" y1="519.60" x2="345.33" y2="521.80" stroke="#8f8f87" stroke-width="1"/>
<line x1="348.24" y1="519.60" x2="348.24" y2="521.80" stroke="#8f8f87" stroke-width="1"/>
<line x1="351.16" y1="519.60" x2="351.16" y2="521.80" stroke="#8f8f87" stroke-width="1"/>
<line x1="357.41" y1="519.60" x2="357.41" y2="521.80" stroke="#8f8f87" stroke-width="1"/>
<line x1="360.33" y1="519.60" x2="360.33" y2="521.80" stroke="#8f8f87" stroke-width="1"/>
<line x1="363.24" y1="519.60" x2="363.24" y2="521.80" stroke="#8f8f87" stroke-width="1"/>
<line x1="366.16" y1="519.60" x2="366.16" y2="521.80" stroke="#8f8f87" stroke-width="1"/>
<line x1="371.41" y1="519.60" x2="371.41" y2="521.80" stroke="#8f8f87" stroke-width="1"/>
<line x1="374.33" y1="519.60" x2="374.33" y2="521.80" stroke="#8f8f87" stroke-width="1"/>
<line x1="377.24" y1="519.60" x2="377.24" y2="521.80" stroke="#8f8f87" stroke-width="1"/>
<line x1="380.16" y1="519.60" x2="380.16" y2="521.80" stroke="#8f8f87" stroke-width="1"/>
<line x1="386.41" y1="519.60" x2="386.41" y2="521.80" stroke="#8f8f87" stroke-width="1"/>
<line x1="389.33" y1="519.60" x2="389.33" y2="521.80" stroke="#8f8f87" stroke-width="1"/>
<line x1="392.24" y1="519.60" x2="392.24" y2="521.80" stroke="#8f8f87" stroke-width="1"/>
<line x1="395.16" y1="519.60" x2="395.16" y2="521.80" stroke="#8f8f87" stroke-width="1"/>
<line x1="400.41" y1="519.60" x2="400.41" y2="521.80" stroke="#8f8f87" stroke-width="1"/>
<line x1="403.33" y1="519.60" x2="403.33" y2="521.80" stroke="#8f8f87" stroke-width="1"/>
<line x1="406.24" y1="519.60" x2="406.24" y2="521.80" stroke="#8f8f87" stroke-width="1"/>
<line x1="409.16" y1="519.60" x2="409.16" y2="521.80" stroke="#8f8f87" stroke-width="1"/>
<line x1="415.41" y1="519.60" x2="415.41" y2="521.80" stroke="#8f8f87" stroke-width="1"/>
<line x1="418.33" y1="519.60" x2="418.33" y2="521.80" stroke="#8f8f87" stroke-width="1"/>
<line x1="421.24" y1="519.60" x2="421.24" y2="521.80" stroke="#8f8f87" stroke-width="1"/>
<line x1="424.16" y1="519.60" x2="424.16" y2="521.80" stroke="#8f8f87" stroke-width="1"/>
<line x1="430.41" y1="519.60" x2="430.41" y2="521.80" stroke="#8f8f87" stroke-width="1"/>
<line x1="433.33" y1="519.60" x2="433.33" y2="521.80" stroke="#8f8f87" stroke-width="1"/>
<line x1="436.24" y1="519.60" x2="436.24" y2="521.80" stroke="#8f8f87" stroke-width="1"/>
<line x1="439.16" y1="519.60" x2="439.16" y2="521.80" stroke="#8f8f87" stroke-width="1"/>
<line x1="444.41" y1="519.60" x2="444.41" y2="521.80" stroke="#8f8f87" stroke-width="1"/>
<line x1="447.33" y1="519.60" x2="447.33" y2="521.80" stroke="#8f8f87" stroke-width="1"/>
<line x1="450.24" y1="519.60" x2="450.24" y2="521.80" stroke="#8f8f87" stroke-width="1"/>
<line x1="453.16" y1="519.60" x2="453.16" y2="521.80" stroke="#8f8f87" stroke-width="1"/>
<line x1="459.41" y1="519.60" x2="459.41" y2="521.80" stroke="#8f8f87" stroke-width="1"/>
<line x1="462.33" y1="519.60" x2="462.33" y2="521.80" stroke="#8f8f87" stroke-width="1"/>
<line x1="465.24" y1="519.60" x2="465.24" y2="521.80" stroke="#8f8f87" stroke-width="1"/>
<line x1="468.16" y1="519.60" x2="468.16" y2="521.80" stroke="#8f8f87" stroke-width="1"/>
<line x1="473.41" y1="519.60" x2="473.41" y2="521.80" stroke="#8f8f87" stroke-width="1"/>
<line x1="476.33" y1="519.60" x2="476.33" y2="521.80" stroke="#8f8f87" stroke-width="1"/>
<line x1="479.24" y1="519.60" x2="479.24" y2="521.80" stroke="#8f8f87" stroke-width="1"/>
<line x1="482.16" y1="519.60" x2="482.16" y2="521.80" stroke="#8f8f87" stroke-width="1"/>
<line x1="488.41" y1="519.60" x2="488.41" y2="521.80" stroke="#8f8f87" stroke-width="1"/>
<line x1="491.33" y1="519.60" x2="491.33" y2="521.80" stroke="#8f8f87" stroke-width="1"/>
<line x1="494.24" y1="519.60" x2="494.24" y2="521.80" stroke="#8f8f87" stroke-width="1"/>
<line x1="497.16" y1="519.60" x2="497.16" y2="521.80" stroke="#8f8f87" stroke-width="1"/>
<line x1="502.41" y1="519.60" x2="502.41" y2="521.80" stroke="#8f8f87" stroke-width="1"/>
<line x1="505.33" y1="519.60" x2="505.33" y2="521.80" stroke="#8f8f87" stroke-width="1"/>
<line x1="508.24" y1="519.60" x2="508.24" y2="521.80" stroke="#8f8f87" stroke-width="1"/>
<line x1="511.16" y1="519.60" x2="511.16" y2="521.80" stroke="#8f8f87" stroke-width="1"/>
<line x1="517.41" y1="519.60" x2="517.41" y2="521.80" stroke="#8f8f87" stroke-width="1"/>
<line x1="520.33" y1="519.60" x2="520.33" y2="521.80" stroke="#8f8f87" stroke-width="1"/>
<line x1="523.24" y1="519.60" x2="523.24" y2="521.80" stroke="#8f8f87" stroke-width="1"/>
<line x1="526.16" y1="519.60" x2="526.16" y2="521.80" stroke="#8f8f87" stroke-width="1"/>
<line x1="531.41" y1="519.60" x2="531.41" y2="521.80" stroke="#8f8f87" stroke-width="1"/>
<line x1="534.33" y1="519.60" x2="534.33" y2="521.80" stroke="#8f8f87" stroke-width="1"/>
<line x1="537.24" y1="519.60" x2="537.24" y2="521.80" stroke="#8f8f87" stroke-width="1"/>
<line x1="540.16" y1="519.60" x2="540.16" y2="521.80" stroke="#8f8f87" stroke-width="1"/>
<line x1="546.41" y1="519.60" x2="546.41" y2="521.80" stroke="#8f8f87" stroke-width="1"/>
<line x1="549.33" y1="519.60" x2="549.33" y2="521.80" stroke="#8f8f87" stroke-width="1"/>
<line x1="552.24" y1="519.60" x2="552.24" y2="521.80" stroke="#8f8f87" stroke-width="1"/>
<line x1="555.16" y1="519.60" x2="555.16" y2="521.80" stroke="#8f8f87" stroke-width="1"/>
<line x1="561.41" y1="519.60" x2="561.41" y2="521.80" stroke="#8f8f87" stroke-width="1"/>
<line x1="564.33" y1="519.60" x2="564.33" y2="521.80" stroke="#8f8f87" stroke-width="1"/>
<line x1="567.24" y1="519.60" x2="567.24" y2="521.80" stroke="#8f8f87" stroke-width="1"/>
<line x1="570.16" y1="519.60" x2="570.16" y2="521.80" stroke="#8f8f87" stroke-width="1"/>
<line x1="575.41" y1="519.60" x2="575.41" y2="521.80" stroke="#8f8f87" stroke-width="1"/>
<line x1="578.33" y1="519.60" x2="578.33" y2="521.80" stroke="#8f8f87" stroke-width="1"/>
<line x1="581.24" y1="519.60" x2="581.24" y2="521.80" stroke="#8f8f87" stroke-width="1"/>
<line x1="584.16" y1="519.60" x2="584.16" y2="521.80" stroke="#8f8f87" stroke-width="1"/>
<line x1="590.41" y1="519.60" x2="590.41" y2="521.80" stroke="#8f8f87" stroke-width="1"/>
<line x1="593.33" y1="519.60" x2="593.33" y2="521.80" stroke="#8f8f87" stroke-width="1"/>
<line x1="596.24" y1="519.60" x2="596.24" y2="521.80" stroke="#8f8f87" stroke-width="1"/>
<line x1="599.16" y1="519.60" x2="599.16" y2="521.80" stroke="#8f8f87" stroke-width="1"/>
<line x1="604.41" y1="519.60" x2="604.41" y2="521.80" stroke="#8f8f87" stroke-width="1"/>
<line x1="607.33" y1="519.60" x2="607.33" y2="521.80" stroke="#8f8f87" stroke-width="1"/>
<line x1="610.24" y1="519.60" x2="610.24" y2="521.80" stroke="#8f8f87" stroke-width="1"/>
<line x1="613.16" y1="519.60" x2="613.16" y2="521.80" stroke="#8f8f87" stroke-width="1"/>
<line x1="619.41" y1="519.60" x2="619.41" y2="521.80" stroke="#8f8f87" stroke-width="1"/>
<line x1="622.33" y1="519.60" x2="622.33" y2="521.80" stroke="#8f8f87" stroke-width="1"/>
<line x1="625.24" y1="519.60" x2="625.24" y2="521.80" stroke="#8f8f87" stroke-width="1"/>
<line x1="628.16" y1="519.60" x2="628.16" y2="521.80" stroke="#8f8f87" stroke-width="1"/>
<line x1="633.41" y1="519.60" x2="633.41" y2="521.80" stroke="#8f8f87" stroke-width="1"/>
<line x1="636.33" y1="519.60" x2="636.33" y2="521.80" stroke="#8f8f87" stroke-width="1"/>
<line x1="639.24" y1="519.60" x2="639.24" y2="521.80" stroke="#8f8f87" stroke-width="1"/>
<line x1="642.16" y1="519.60" x2="642.16" y2="521.80" stroke="#8f8f87" stroke-width="1"/>
<line x1="648.41" y1="519.60" x2="648.41" y2="521.80" stroke="#8f8f87" stroke-width="1"/>
<line x1="651.33" y1="519.60" x2="651.33" y2="521.80" stroke="#8f8f87" stroke-width="1"/>
<line x1="654.24" y1="519.60" x2="654.24" y2="521.80" stroke="#8f8f87" stroke-width="1"/>
<line x1="657.16" y1="519.60" x2="657.16" y2="521.80" stroke="#8f8f87" stroke-width="1"/>
<line x1="663.41" y1="519.60" x2="663.41" y2="521.80" stroke="#8f8f87" stroke-width="1"/>
<line x1="666.33" y1="519.60" x2="666.33" y2="521.80" stroke="#8f8f87" stroke-width="1"/>
<line x1="669.24" y1="519.60" x2="669.24" y2="521.80" stroke="#8f8f87" stroke-width="1"/>
<line x1="672.16" y1="519.60" x2="672.16" y2="521.80" stroke="#8f8f87" stroke-width="1"/>
<line x1="677.41" y1="519.60" x2="677.41" y2="521.80" stroke="#8f8f87" stroke-width="1"/>
<line x1="680.33" y1="519.60" x2="680.33" y2="521.80" stroke="#8f8f87" stroke-width="1"/>
<line x1="683.24" y1="519.60" x2="683.24" y2="521.80" stroke="#8f8f87" stroke-width="1"/>
<line x1="686.16" y1="519.60" x2="686.16" y2="521.80" stroke="#8f8f87" stroke-width="1"/>
<line x1="692.41" y1="519.60" x2="692.41" y2="521.80" stroke="#8f8f87" stroke-width="1"/>
<line x1="695.33" y1="519.60" x2="695.33" y2="521.80" stroke="#8f8f87" stroke-width="1"/>
<line x1="698.24" y1="519.60" x2="698.24" y2="521.80" stroke="#8f8f87" stroke-width="1"/>
<line x1="701.16" y1="519.60" x2="701.16" y2="521.80" stroke="#8f8f87" stroke-width="1"/>
<line x1="48.50" y1="519.60" x2="48.50" y2="523.20" stroke="#3c3c38" stroke-width="1"/>
<line x1="63.50" y1="519.60" x2="63.50" y2="523.20" stroke="#3c3c38" stroke-width="1"/>
<line x1="77.50" y1="519.60" x2="77.50" y2="523.20" stroke="#3c3c38" stroke-width="1"/>
<line x1="92.50" y1="519.60" x2="92.50" y2="523.20" stroke="#3c3c38" stroke-width="1"/>
<line x1="106.50" y1="519.60" x2="106.50" y2="523.20" stroke="#3c3c38" stroke-width="1"/>
<line x1="121.50" y1="519.60" x2="121.50" y2="523.20" stroke="#3c3c38" stroke-width="1"/>
<line x1="135.50" y1="519.60" x2="135.50" y2="523.20" stroke="#3c3c38" stroke-width="1"/>
<line x1="150.50" y1="519.60" x2="150.50" y2="523.20" stroke="#3c3c38" stroke-width="1"/>
<line x1="164.50" y1="519.60" x2="164.50" y2="523.20" stroke="#3c3c38" stroke-width="1"/>
<line x1="179.50" y1="519.60" x2="179.50" y2="523.20" stroke="#3c3c38" stroke-width="1"/>
<line x1="194.50" y1="519.60" x2="194.50" y2="523.20" stroke="#3c3c38" stroke-width="1"/>
<line x1="208.50" y1="519.60" x2="208.50" y2="523.20" stroke="#3c3c38" stroke-width="1"/>
<line x1="223.50" y1="519.60" x2="223.50" y2="523.20" stroke="#3c3c38" stroke-width="1"/>
<line x1="237.50" y1="519.60" x2="237.50" y2="523.20" stroke="#3c3c38" stroke-width="1"/>
<line x1="252.50" y1="519.60" x2="252.50" y2="523.20" stroke="#3c3c38" stroke-width="1"/>
<line x1="266.50" y1="519.60" x2="266.50" y2="523.20" stroke="#3c3c38" stroke-width="1"/>
<line x1="281.50" y1="519.60" x2="281.50" y2="523.20" stroke="#3c3c38" stroke-width="1"/>
<line x1="296.50" y1="519.60" x2="296.50" y2="523.20" stroke="#3c3c38" stroke-width="1"/>
<line x1="310.50" y1="519.60" x2="310.50" y2="523.20" stroke="#3c3c38" stroke-width="1"/>
<line x1="325.50" y1="519.60" x2="325.50" y2="523.20" stroke="#3c3c38" stroke-width="1"/>
<line x1="339.50" y1="519.60" x2="339.50" y2="523.20" stroke="#3c3c38" stroke-width="1"/>
<line x1="354.50" y1="519.60" x2="354.50" y2="523.20" stroke="#3c3c38" stroke-width="1"/>
<line x1="368.50" y1="519.60" x2="368.50" y2="523.20" stroke="#3c3c38" stroke-width="1"/>
<line x1="383.50" y1="519.60" x2="383.50" y2="523.20" stroke="#3c3c38" stroke-width="1"/>
<line x1="397.50" y1="519.60" x2="397.50" y2="523.20" stroke="#3c3c38" stroke-width="1"/>
<line x1="412.50" y1="519.60" x2="412.50" y2="523.20" stroke="#3c3c38" stroke-width="1"/>
<line x1="427.50" y1="519.60" x2="427.50" y2="523.20" stroke="#3c3c38" stroke-width="1"/>
<line x1="441.50" y1="519.60" x2="441.50" y2="523.20" stroke="#3c3c38" stroke-width="1"/>
<line x1="456.50" y1="519.60" x2="456.50" y2="523.20" stroke="#3c3c38" stroke-width="1"/>
<line x1="470.50" y1="519.60" x2="470.50" y2="523.20" stroke="#3c3c38" stroke-width="1"/>
<line x1="485.50" y1="519.60" x2="485.50" y2="523.20" stroke="#3c3c38" stroke-width="1"/>
<line x1="499.50" y1="519.60" x2="499.50" y2="523.20" stroke="#3c3c38" stroke-width="1"/>
<line x1="514.50" y1="519.60" x2="514.50" y2="523.20" stroke="#3c3c38" stroke-width="1"/>
<line x1="528.50" y1="519.60" x2="528.50" y2="523.20" stroke="#3c3c38" stroke-width="1"/>
<line x1="543.50" y1="519.60" x2="543.50" y2="523.20" stroke="#3c3c38" stroke-width="1"/>
<line x1="558.50" y1="519.60" x2="558.50" y2="523.20" stroke="#3c3c38" stroke-width="1"/>
<line x1="572.50" y1="519.60" x2="572.50" y2="523.20" stroke="#3c3c38" stroke-width="1"/>
<line x1="587.50" y1="519.60" x2="587.50" y2="523.20" stroke="#3c3c38" stroke-width="1"/>
<line x1="601.50" y1="519.60" x2="601.50" y2="523.20" stroke="#3c3c38" stroke-width="1"/>
<line x1="616.50" y1="519.60" x2="616.50" y2="523.20" stroke="#3c3c38" stroke-width="1"/>
<line x1="630.50" y1="519.60" x2="630.50" y2="523.20" stroke="#3c3c38" stroke-width="1"/>
<line x1="645.50" y1="519.60" x2="645.50" y2="523.20" stroke="#3c3c38" stroke-width="1"/>
<line x1="660.50" y1="519.60" x2="660.50" y2="523.20" stroke="#3c3c38" stroke-width="1"/>
<line x1="674.50" y1="519.60" x2="674.50" y2="523.20" stroke="#3c3c38" stroke-width="1"/>
<line x1="689.50" y1="519.60" x2="689.50" y2="523.20" stroke="#3c3c38" stroke-width="1"/>
<line x1="703.50" y1="519.60" x2="703.50" y2="523.20" stroke="#3c3c38" stroke-width="1"/>
<rect x="33.1" y="422.50" width="2" height="97.10" fill="#000"/>
<rect x="33.1" y="517.80" width="671.00" height="1.85" fill="#000"/>
<line x1="30.00" y1="427.30" x2="33.30" y2="427.30" stroke="#222" stroke-width="1"/>
<line x1="32.00" y1="434.68" x2="33.30" y2="434.68" stroke="#66665f" stroke-width="1"/>
<text x="28.0" y="430.70" text-anchor="end" textLength="18.0" lengthAdjust="spacing" class="yl">300</text>
<line x1="30.00" y1="442.05" x2="33.30" y2="442.05" stroke="#222" stroke-width="1"/>
<line x1="32.00" y1="449.43" x2="33.30" y2="449.43" stroke="#66665f" stroke-width="1"/>
<text x="28.0" y="445.45" text-anchor="end" textLength="18.0" lengthAdjust="spacing" class="yl">250</text>
<line x1="30.00" y1="456.80" x2="33.30" y2="456.80" stroke="#222" stroke-width="1"/>
<line x1="32.00" y1="464.18" x2="33.30" y2="464.18" stroke="#66665f" stroke-width="1"/>
<text x="28.0" y="460.20" text-anchor="end" textLength="18.0" lengthAdjust="spacing" class="yl">200</text>
<line x1="30.00" y1="471.55" x2="33.30" y2="471.55" stroke="#222" stroke-width="1"/>
<line x1="32.00" y1="478.93" x2="33.30" y2="478.93" stroke="#66665f" stroke-width="1"/>
<text x="28.0" y="474.95" text-anchor="end" textLength="18.0" lengthAdjust="spacing" class="yl">150</text>
<line x1="30.00" y1="486.30" x2="33.30" y2="486.30" stroke="#222" stroke-width="1"/>
<line x1="32.00" y1="493.68" x2="33.30" y2="493.68" stroke="#66665f" stroke-width="1"/>
<text x="28.0" y="489.70" text-anchor="end" textLength="18.0" lengthAdjust="spacing" class="yl">100</text>
<line x1="30.00" y1="501.05" x2="33.30" y2="501.05" stroke="#222" stroke-width="1"/>
<line x1="32.00" y1="508.42" x2="33.30" y2="508.42" stroke="#66665f" stroke-width="1"/>
<text x="28.0" y="504.45" text-anchor="end" textLength="12.0" lengthAdjust="spacing" class="yl">50</text>
<line x1="30.00" y1="515.80" x2="33.30" y2="515.80" stroke="#222" stroke-width="1"/>
<text x="28.0" y="519.20" text-anchor="end" textLength="6.0" lengthAdjust="spacing" class="yl">0</text>
<text x="290.6" y="415.4" textLength="104.5" lengthAdjust="spacingAndGlyphs" class="pt">Sonnenstrahlung (W/m²)</text>
<text transform="translate(50.20,554.6) rotate(-90)" x="0.33 6.33 13.67 18.33 24.33" class="xl">01:00</text>
<text transform="translate(65.20,554.6) rotate(-90)" x="0.33 6.33 13.67 18.33 24.33" class="xl">01:30</text>
<text transform="translate(79.20,554.6) rotate(-90)" x="0.33 6.33 13.67 18.33 24.33" class="xl">02:00</text>
<text transform="translate(94.20,554.6) rotate(-90)" x="0.33 6.33 13.67 18.33 24.33" class="xl">02:30</text>
<text transform="translate(108.20,554.6) rotate(-90)" x="0.33 6.33 13.67 18.33 24.33" class="xl">03:00</text>
<text transform="translate(123.20,554.6) rotate(-90)" x="0.33 6.33 13.67 18.33 24.33" class="xl">03:30</text>
<text transform="translate(137.20,554.6) rotate(-90)" x="0.33 6.33 13.67 18.33 24.33" class="xl">04:00</text>
<text transform="translate(152.20,554.6) rotate(-90)" x="0.33 6.33 13.67 18.33 24.33" class="xl">04:30</text>
<text transform="translate(166.20,554.6) rotate(-90)" x="0.33 6.33 13.67 18.33 24.33" class="xl">05:00</text>
<text transform="translate(181.20,554.6) rotate(-90)" x="0.33 6.33 13.67 18.33 24.33" class="xl">05:30</text>
<text transform="translate(196.20,554.6) rotate(-90)" x="0.33 6.33 13.67 18.33 24.33" class="xl">06:00</text>
<text transform="translate(210.20,554.6) rotate(-90)" x="0.33 6.33 13.67 18.33 24.33" class="xl">06:30</text>
<text transform="translate(225.20,554.6) rotate(-90)" x="0.33 6.33 13.67 18.33 24.33" class="xl">07:00</text>
<text transform="translate(239.20,554.6) rotate(-90)" x="0.33 6.33 13.67 18.33 24.33" class="xl">07:30</text>
<text transform="translate(254.20,554.6) rotate(-90)" x="0.33 6.33 13.67 18.33 24.33" class="xl">08:00</text>
<text transform="translate(268.20,554.6) rotate(-90)" x="0.33 6.33 13.67 18.33 24.33" class="xl">08:30</text>
<text transform="translate(283.20,554.6) rotate(-90)" x="0.33 6.33 13.67 18.33 24.33" class="xl">09:00</text>
<text transform="translate(298.20,554.6) rotate(-90)" x="0.33 6.33 13.67 18.33 24.33" class="xl">09:30</text>
<text transform="translate(312.20,554.6) rotate(-90)" x="0.33 6.33 13.67 18.33 24.33" class="xl">10:00</text>
<text transform="translate(327.20,554.6) rotate(-90)" x="0.33 6.33 13.67 18.33 24.33" class="xl">10:30</text>
<text transform="translate(341.20,554.6) rotate(-90)" x="0.33 6.33 13.67 18.33 24.33" class="xl">11:00</text>
<text transform="translate(356.20,554.6) rotate(-90)" x="0.33 6.33 13.67 18.33 24.33" class="xl">11:30</text>
<text transform="translate(370.20,554.6) rotate(-90)" x="0.33 6.33 13.67 18.33 24.33" class="xl">12:00</text>
<text transform="translate(385.20,554.6) rotate(-90)" x="0.33 6.33 13.67 18.33 24.33" class="xl">12:30</text>
<text transform="translate(399.20,554.6) rotate(-90)" x="0.33 6.33 13.67 18.33 24.33" class="xl">13:00</text>
<text transform="translate(414.20,554.6) rotate(-90)" x="0.33 6.33 13.67 18.33 24.33" class="xl">13:30</text>
<text transform="translate(429.20,554.6) rotate(-90)" x="0.33 6.33 13.67 18.33 24.33" class="xl">14:00</text>
<text transform="translate(443.20,554.6) rotate(-90)" x="0.33 6.33 13.67 18.33 24.33" class="xl">14:30</text>
<text transform="translate(458.20,554.6) rotate(-90)" x="0.33 6.33 13.67 18.33 24.33" class="xl">15:00</text>
<text transform="translate(472.20,554.6) rotate(-90)" x="0.33 6.33 13.67 18.33 24.33" class="xl">15:30</text>
<text transform="translate(487.20,554.6) rotate(-90)" x="0.33 6.33 13.67 18.33 24.33" class="xl">16:00</text>
<text transform="translate(501.20,554.6) rotate(-90)" x="0.33 6.33 13.67 18.33 24.33" class="xl">16:30</text>
<text transform="translate(516.20,554.6) rotate(-90)" x="0.33 6.33 13.67 18.33 24.33" class="xl">17:00</text>
<text transform="translate(530.20,554.6) rotate(-90)" x="0.33 6.33 13.67 18.33 24.33" class="xl">17:30</text>
<text transform="translate(545.20,554.6) rotate(-90)" x="0.33 6.33 13.67 18.33 24.33" class="xl">18:00</text>
<text transform="translate(560.20,554.6) rotate(-90)" x="0.33 6.33 13.67 18.33 24.33" class="xl">18:30</text>
<text transform="translate(574.20,554.6) rotate(-90)" x="0.33 6.33 13.67 18.33 24.33" class="xl">19:00</text>
<text transform="translate(589.20,554.6) rotate(-90)" x="0.33 6.33 13.67 18.33 24.33" class="xl">19:30</text>
<text transform="translate(603.20,554.6) rotate(-90)" x="0.33 6.33 13.67 18.33 24.33" class="xl">20:00</text>
<text transform="translate(618.20,554.6) rotate(-90)" x="0.33 6.33 13.67 18.33 24.33" class="xl">20:30</text>
<text transform="translate(632.20,554.6) rotate(-90)" x="0.33 6.33 13.67 18.33 24.33" class="xl">21:00</text>
<text transform="translate(647.20,554.6) rotate(-90)" x="0.33 6.33 13.67 18.33 24.33" class="xl">21:30</text>
<text transform="translate(662.20,554.6) rotate(-90)" x="0.33 6.33 13.67 18.33 24.33" class="xl">22:00</text>
<text transform="translate(676.20,554.6) rotate(-90)" x="0.33 6.33 13.67 18.33 24.33" class="xl">22:30</text>
<text transform="translate(691.20,554.6) rotate(-90)" x="0.33 6.33 13.67 18.33 24.33" class="xl">23:00</text>
<text transform="translate(705.20,554.6) rotate(-90)" x="0.33 6.33 13.67 18.33 24.33" class="xl">23:30</text>
<text x="240.5" y="13" textLength="228" lengthAdjust="spacingAndGlyphs" class="tt">Tagesauswertung vom 01. Feb 2006</text>
</svg>
</body></html>
